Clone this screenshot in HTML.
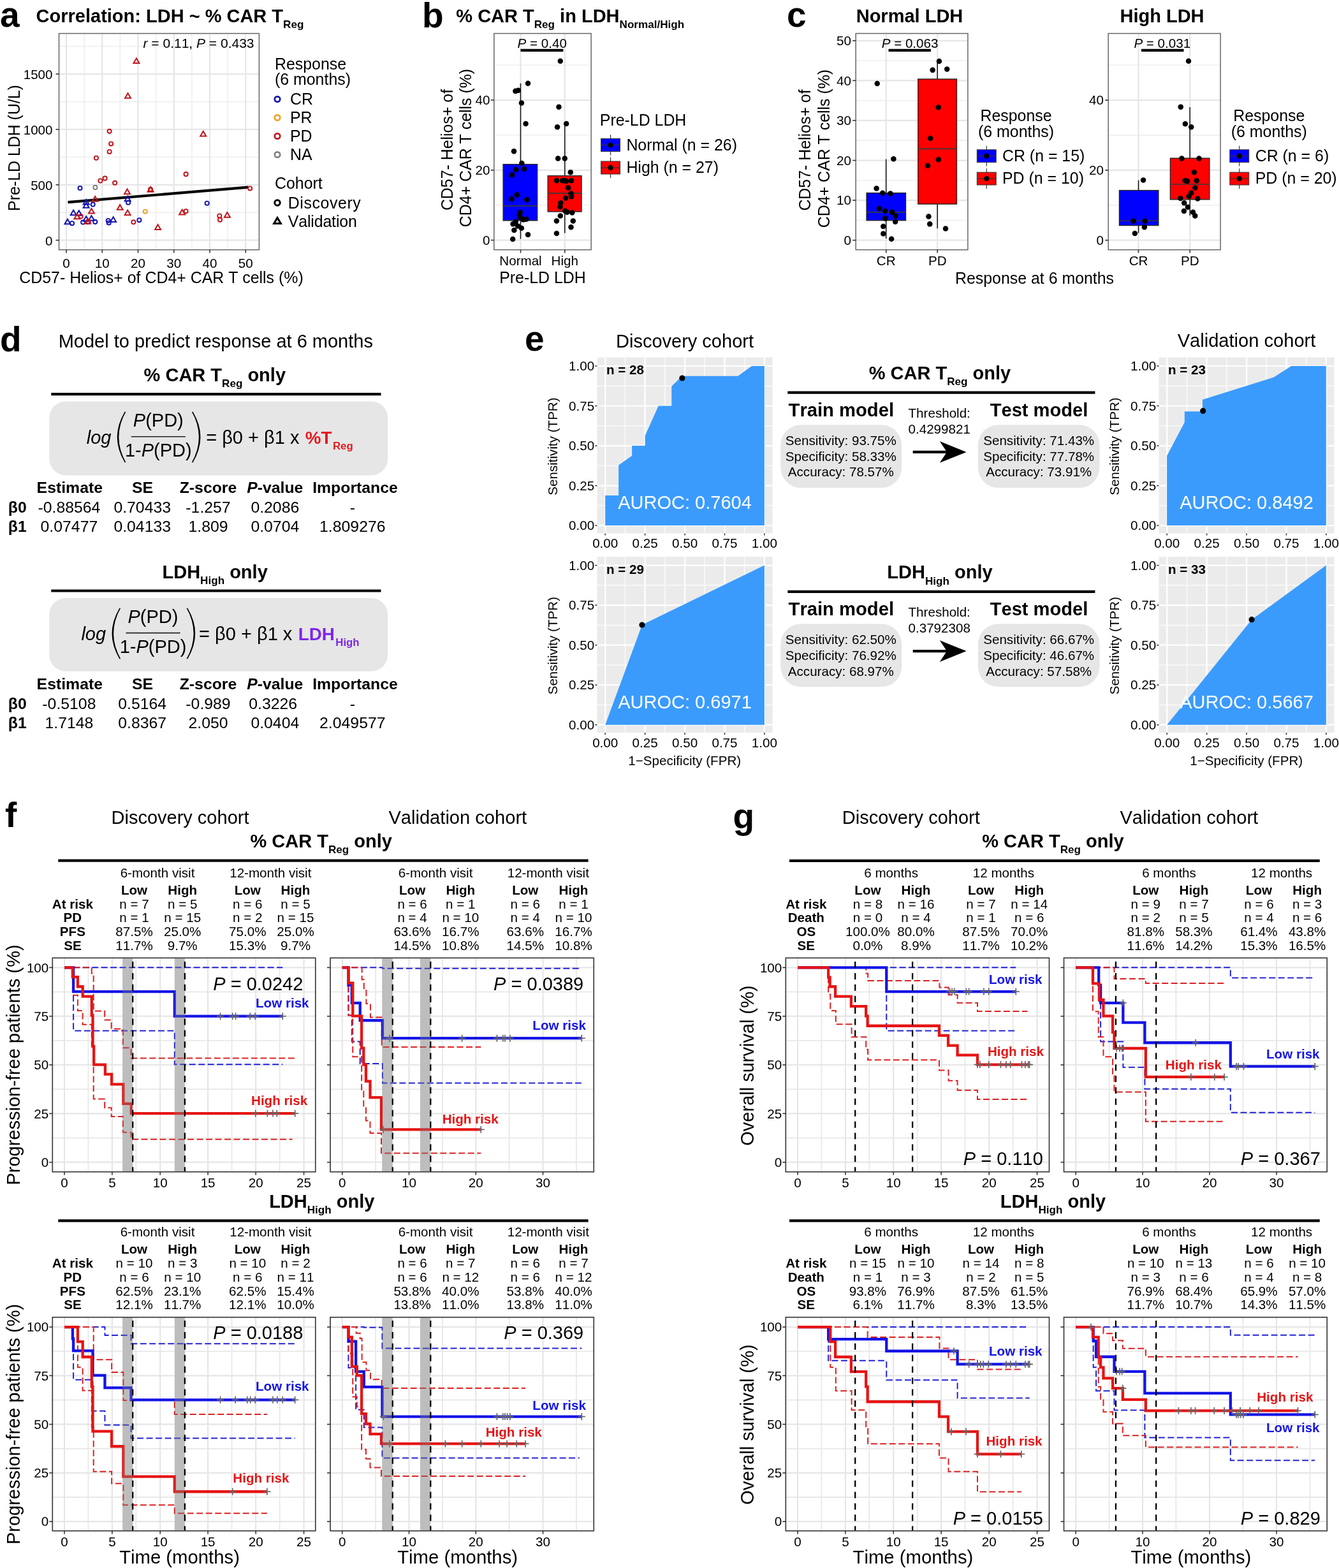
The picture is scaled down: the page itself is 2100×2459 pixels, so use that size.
<!DOCTYPE html>
<html lang="en"><head><meta charset="utf-8"><title>Figure</title>
<style>
html,body{margin:0;padding:0;background:#fff;}
body{width:2100px;height:2459px;overflow:hidden;}
svg{display:block;font-family:'Liberation Sans', sans-serif;font-kerning:none;}
text{font-kerning:none;}
</style></head><body>
<svg width="2100" height="2459" viewBox="0 0 2100 2459">
<rect width="2100" height="2459" fill="#fff"/>
<text x="0" y="42.3" font-size="55" font-weight="bold">a</text>
<text x="56.6" y="34.8" font-size="29.0" font-weight="bold">Correlation: LDH ~ % CAR T<tspan dy="9.3" font-size="17.1">Reg</tspan></text>
<rect x="92.5" y="52.5" width="313.9" height="339.2" fill="#fff"/>
<line x1="132.12" y1="52.5" x2="132.12" y2="391.7" stroke="#ececec" stroke-width="1.4"/>
<line x1="188.38" y1="52.5" x2="188.38" y2="391.7" stroke="#ececec" stroke-width="1.4"/>
<line x1="244.62" y1="52.5" x2="244.62" y2="391.7" stroke="#ececec" stroke-width="1.4"/>
<line x1="300.88" y1="52.5" x2="300.88" y2="391.7" stroke="#ececec" stroke-width="1.4"/>
<line x1="357.12" y1="52.5" x2="357.12" y2="391.7" stroke="#ececec" stroke-width="1.4"/>
<line x1="92.5" y1="333.27" x2="406.4" y2="333.27" stroke="#ececec" stroke-width="1.3"/>
<line x1="92.5" y1="246.4" x2="406.4" y2="246.4" stroke="#ececec" stroke-width="1.3"/>
<line x1="92.5" y1="159.54" x2="406.4" y2="159.54" stroke="#ececec" stroke-width="1.3"/>
<line x1="92.5" y1="72.67" x2="406.4" y2="72.67" stroke="#ececec" stroke-width="1.3"/>
<line x1="104" y1="52.5" x2="104" y2="391.7" stroke="#e4e4e4" stroke-width="2"/>
<line x1="160.25" y1="52.5" x2="160.25" y2="391.7" stroke="#e4e4e4" stroke-width="2"/>
<line x1="216.5" y1="52.5" x2="216.5" y2="391.7" stroke="#e4e4e4" stroke-width="2"/>
<line x1="272.75" y1="52.5" x2="272.75" y2="391.7" stroke="#e4e4e4" stroke-width="2"/>
<line x1="329" y1="52.5" x2="329" y2="391.7" stroke="#e4e4e4" stroke-width="2"/>
<line x1="385.25" y1="52.5" x2="385.25" y2="391.7" stroke="#e4e4e4" stroke-width="2"/>
<line x1="92.5" y1="376.7" x2="406.4" y2="376.7" stroke="#e6e6e6" stroke-width="2.2"/>
<line x1="92.5" y1="289.83" x2="406.4" y2="289.83" stroke="#e6e6e6" stroke-width="2.2"/>
<line x1="92.5" y1="202.97" x2="406.4" y2="202.97" stroke="#e6e6e6" stroke-width="2.2"/>
<line x1="92.5" y1="116.11" x2="406.4" y2="116.11" stroke="#e6e6e6" stroke-width="2.2"/>
<line x1="106.52" y1="317.15" x2="389.44" y2="293.7" stroke="#000" stroke-width="4.2"/>
<circle cx="125.55" cy="295.05" r="3.1" fill="none" stroke="#1212b0" stroke-width="1.9"/>
<circle cx="145.73" cy="320.61" r="3.1" fill="none" stroke="#1212b0" stroke-width="1.9"/>
<circle cx="201.09" cy="317.73" r="3.1" fill="none" stroke="#1212b0" stroke-width="1.9"/>
<circle cx="324.67" cy="318.69" r="3.1" fill="none" stroke="#1212b0" stroke-width="1.9"/>
<circle cx="113.06" cy="350.21" r="3.1" fill="none" stroke="#1212b0" stroke-width="1.9"/>
<circle cx="130.16" cy="348.48" r="3.1" fill="none" stroke="#1212b0" stroke-width="1.9"/>
<circle cx="149.19" cy="347.9" r="3.1" fill="none" stroke="#1212b0" stroke-width="1.9"/>
<circle cx="169.76" cy="345.98" r="3.1" fill="none" stroke="#1212b0" stroke-width="1.9"/>
<circle cx="170.72" cy="349.44" r="3.1" fill="none" stroke="#1212b0" stroke-width="1.9"/>
<circle cx="218.38" cy="345.21" r="3.1" fill="none" stroke="#1212b0" stroke-width="1.9"/>
<circle cx="137.66" cy="348.09" r="3.1" fill="none" stroke="#1212b0" stroke-width="1.9"/>
<path d="M135.16 312.87 L130.7 320.48 L139.63 320.48 Z" fill="none" stroke="#1212b0" stroke-width="2"/>
<path d="M135.16 318.06 L130.7 325.67 L139.63 325.67 Z" fill="none" stroke="#1212b0" stroke-width="2"/>
<path d="M200.12 307.68 L195.66 315.29 L204.59 315.29 Z" fill="none" stroke="#1212b0" stroke-width="2"/>
<path d="M115.17 329.59 L110.71 337.2 L119.64 337.2 Z" fill="none" stroke="#1212b0" stroke-width="2"/>
<path d="M123.82 330.16 L119.36 337.78 L128.29 337.78 Z" fill="none" stroke="#1212b0" stroke-width="2"/>
<path d="M135.16 339.2 L130.7 346.81 L139.63 346.81 Z" fill="none" stroke="#1212b0" stroke-width="2"/>
<path d="M143.43 338.24 L138.96 345.85 L147.89 345.85 Z" fill="none" stroke="#1212b0" stroke-width="2"/>
<path d="M105.95 343.62 L101.48 351.23 L110.41 351.23 Z" fill="none" stroke="#1212b0" stroke-width="2"/>
<path d="M177.64 340.35 L173.17 347.96 L182.1 347.96 Z" fill="none" stroke="#1212b0" stroke-width="2"/>
<circle cx="171.68" cy="205.87" r="3.1" fill="none" stroke="#c0141c" stroke-width="1.9"/>
<circle cx="174.18" cy="225.47" r="3.1" fill="none" stroke="#c0141c" stroke-width="1.9"/>
<circle cx="171.68" cy="237.96" r="3.1" fill="none" stroke="#c0141c" stroke-width="1.9"/>
<circle cx="150.92" cy="247.77" r="3.1" fill="none" stroke="#c0141c" stroke-width="1.9"/>
<circle cx="157.46" cy="283.52" r="3.1" fill="none" stroke="#c0141c" stroke-width="1.9"/>
<circle cx="164.57" cy="279.67" r="3.1" fill="none" stroke="#c0141c" stroke-width="1.9"/>
<circle cx="180.14" cy="286.78" r="3.1" fill="none" stroke="#c0141c" stroke-width="1.9"/>
<circle cx="291.61" cy="273.14" r="3.1" fill="none" stroke="#c0141c" stroke-width="1.9"/>
<circle cx="392.13" cy="295.43" r="3.1" fill="none" stroke="#c0141c" stroke-width="1.9"/>
<circle cx="291.61" cy="331.18" r="3.1" fill="none" stroke="#c0141c" stroke-width="1.9"/>
<circle cx="126.7" cy="339.25" r="3.1" fill="none" stroke="#c0141c" stroke-width="1.9"/>
<circle cx="209.35" cy="348.29" r="3.1" fill="none" stroke="#c0141c" stroke-width="1.9"/>
<circle cx="344.27" cy="338.49" r="3.1" fill="none" stroke="#c0141c" stroke-width="1.9"/>
<circle cx="345.04" cy="344.64" r="3.1" fill="none" stroke="#c0141c" stroke-width="1.9"/>
<circle cx="236.07" cy="296.97" r="3.1" fill="none" stroke="#c0141c" stroke-width="1.9"/>
<circle cx="138.62" cy="347.9" r="3.1" fill="none" stroke="#c0141c" stroke-width="1.9"/>
<path d="M213.96 91.45 L209.5 99.07 L218.43 99.07 Z" fill="none" stroke="#c0141c" stroke-width="2"/>
<path d="M200.51 146.23 L196.04 153.84 L204.97 153.84 Z" fill="none" stroke="#c0141c" stroke-width="2"/>
<path d="M318.71 205.81 L314.25 213.43 L323.18 213.43 Z" fill="none" stroke="#c0141c" stroke-width="2"/>
<path d="M199.55 296.53 L195.08 304.14 L204.01 304.14 Z" fill="none" stroke="#c0141c" stroke-width="2"/>
<path d="M236.07 293.07 L231.6 300.68 L240.53 300.68 Z" fill="none" stroke="#c0141c" stroke-width="2"/>
<path d="M149.19 308.06 L144.73 315.68 L153.66 315.68 Z" fill="none" stroke="#c0141c" stroke-width="2"/>
<path d="M188.21 321.13 L183.74 328.75 L192.67 328.75 Z" fill="none" stroke="#c0141c" stroke-width="2"/>
<path d="M143.43 326.9 L138.96 334.51 L147.89 334.51 Z" fill="none" stroke="#c0141c" stroke-width="2"/>
<path d="M200.12 329.59 L195.66 337.2 L204.59 337.2 Z" fill="none" stroke="#c0141c" stroke-width="2"/>
<path d="M120.94 335.55 L116.47 343.16 L125.4 343.16 Z" fill="none" stroke="#c0141c" stroke-width="2"/>
<path d="M285.65 328.82 L281.19 336.43 L290.12 336.43 Z" fill="none" stroke="#c0141c" stroke-width="2"/>
<path d="M356.38 333.05 L351.92 340.66 L360.85 340.66 Z" fill="none" stroke="#c0141c" stroke-width="2"/>
<path d="M247.6 352.27 L243.13 359.88 L252.06 359.88 Z" fill="none" stroke="#c0141c" stroke-width="2"/>
<path d="M137.66 343.04 L133.19 350.66 L142.12 350.66 Z" fill="none" stroke="#c0141c" stroke-width="2"/>
<circle cx="149.38" cy="293.89" r="3.1" fill="none" stroke="#808080" stroke-width="1.9"/>
<circle cx="227.8" cy="331.76" r="3.1" fill="none" stroke="#f0a020" stroke-width="1.9"/>
<rect x="92.5" y="52.5" width="313.9" height="339.2" fill="none" stroke="#666" stroke-width="1.5"/>
<line x1="104" y1="391.7" x2="104" y2="396.7" stroke="#333" stroke-width="1.6"/>
<line x1="160.25" y1="391.7" x2="160.25" y2="396.7" stroke="#333" stroke-width="1.6"/>
<line x1="216.5" y1="391.7" x2="216.5" y2="396.7" stroke="#333" stroke-width="1.6"/>
<line x1="272.75" y1="391.7" x2="272.75" y2="396.7" stroke="#333" stroke-width="1.6"/>
<line x1="329" y1="391.7" x2="329" y2="396.7" stroke="#333" stroke-width="1.6"/>
<line x1="385.25" y1="391.7" x2="385.25" y2="396.7" stroke="#333" stroke-width="1.6"/>
<line x1="87.5" y1="376.7" x2="92.5" y2="376.7" stroke="#333" stroke-width="1.6"/>
<line x1="87.5" y1="289.83" x2="92.5" y2="289.83" stroke="#333" stroke-width="1.6"/>
<line x1="87.5" y1="202.97" x2="92.5" y2="202.97" stroke="#333" stroke-width="1.6"/>
<line x1="87.5" y1="116.11" x2="92.5" y2="116.11" stroke="#333" stroke-width="1.6"/>
<text x="398.5" y="74.8" font-size="21" text-anchor="end"><tspan font-style="italic">r</tspan> = 0.11, <tspan font-style="italic">P</tspan> = 0.433</text>
<text x="104" y="420" font-size="20.6" text-anchor="middle">0</text>
<text x="160.25" y="420" font-size="20.6" text-anchor="middle">10</text>
<text x="216.5" y="420" font-size="20.6" text-anchor="middle">20</text>
<text x="272.75" y="420" font-size="20.6" text-anchor="middle">30</text>
<text x="329" y="420" font-size="20.6" text-anchor="middle">40</text>
<text x="385.25" y="420" font-size="20.6" text-anchor="middle">50</text>
<text x="82.5" y="384.5" font-size="20.6" text-anchor="end">0</text>
<text x="82.5" y="297.63" font-size="20.6" text-anchor="end">500</text>
<text x="82.5" y="210.77" font-size="20.6" text-anchor="end">1000</text>
<text x="82.5" y="123.91" font-size="20.6" text-anchor="end">1500</text>
<text x="253" y="443.5" font-size="24.9" text-anchor="middle">CD57- Helios+ of CD4+ CAR T cells (%)</text>
<text x="31.3" y="232" font-size="24.9" text-anchor="middle" transform="rotate(-90 31.3 232)">Pre-LD LDH (U/L)</text>
<text x="431" y="108.5" font-size="24.9">Response</text>
<text x="431" y="133" font-size="24.9">(6 months)</text>
<circle cx="435" cy="155.5" r="4.2" fill="none" stroke="#1212b0" stroke-width="2.7"/>
<text x="455" y="164.4" font-size="24.9">CR</text>
<circle cx="435" cy="184.5" r="4.2" fill="none" stroke="#f0a020" stroke-width="2.7"/>
<text x="455" y="193.4" font-size="24.9">PR</text>
<circle cx="435" cy="213.5" r="4.2" fill="none" stroke="#c0141c" stroke-width="2.7"/>
<text x="455" y="222.4" font-size="24.9">PD</text>
<circle cx="435" cy="242.5" r="4.2" fill="none" stroke="#808080" stroke-width="2.7"/>
<text x="455" y="251.4" font-size="24.9">NA</text>
<text x="431" y="296" font-size="24.9">Cohort</text>
<circle cx="435" cy="318" r="4.2" fill="none" stroke="#000" stroke-width="3"/>
<text x="451.8" y="326.5" font-size="24.9" textLength="114" lengthAdjust="spacing">Discovery</text>
<path d="M435 341.4 L429.68 350.47 L440.32 350.47 Z" fill="none" stroke="#000" stroke-width="3"/>
<text x="451.8" y="355.5" font-size="24.9" textLength="108" lengthAdjust="spacing">Validation</text>
<text x="662" y="42.5" font-size="55" font-weight="bold">b</text>
<text x="715.3" y="34.8" font-size="29.0" font-weight="bold">% CAR T<tspan dy="9.3" font-size="17.1">Reg</tspan><tspan dy="-9.3" font-size="29.0"> in LDH</tspan><tspan dy="9.3" font-size="17.1">Normal/High</tspan></text>
<rect x="774.8" y="52.5" width="152.3" height="339.2" fill="#fff"/>
<line x1="774.8" y1="321.7" x2="927.1" y2="321.7" stroke="#ececec" stroke-width="1.3"/>
<line x1="774.8" y1="211.9" x2="927.1" y2="211.9" stroke="#ececec" stroke-width="1.3"/>
<line x1="774.8" y1="102.1" x2="927.1" y2="102.1" stroke="#ececec" stroke-width="1.3"/>
<line x1="816.5" y1="52.5" x2="816.5" y2="391.7" stroke="#e4e4e4" stroke-width="2"/>
<line x1="885.8" y1="52.5" x2="885.8" y2="391.7" stroke="#e4e4e4" stroke-width="2"/>
<line x1="774.8" y1="376.6" x2="927.1" y2="376.6" stroke="#e6e6e6" stroke-width="2.2"/>
<line x1="774.8" y1="266.8" x2="927.1" y2="266.8" stroke="#e6e6e6" stroke-width="2.2"/>
<line x1="774.8" y1="157" x2="927.1" y2="157" stroke="#e6e6e6" stroke-width="2.2"/>
<line x1="816.47" y1="130.77" x2="816.47" y2="374.66" stroke="#1a1a1a" stroke-width="1.6"/>
<rect x="789.14" y="257.67" width="53.55" height="88.2" fill="#0000ff" stroke="#262626" stroke-width="1.4"/>
<line x1="789.14" y1="322.95" x2="842.69" y2="322.95" stroke="#383838" stroke-width="1.7"/>
<line x1="885.78" y1="194.03" x2="885.78" y2="365.49" stroke="#1a1a1a" stroke-width="1.6"/>
<rect x="859.19" y="275.64" width="52.81" height="56.3" fill="#ff0000" stroke="#262626" stroke-width="1.4"/>
<line x1="859.19" y1="303.14" x2="912" y2="303.14" stroke="#383838" stroke-width="1.7"/>
<circle cx="828.02" cy="130.77" r="4.25" fill="#000"/>
<circle cx="808.4" cy="142.87" r="4.25" fill="#000"/>
<circle cx="812.8" cy="141.77" r="4.25" fill="#000"/>
<circle cx="817.93" cy="161.58" r="4.25" fill="#000"/>
<circle cx="824.54" cy="194.03" r="4.25" fill="#000"/>
<circle cx="806.01" cy="237.13" r="4.25" fill="#000"/>
<circle cx="818.3" cy="256.01" r="4.25" fill="#000"/>
<circle cx="809.32" cy="265.92" r="4.25" fill="#000"/>
<circle cx="822.15" cy="265" r="4.25" fill="#000"/>
<circle cx="802.9" cy="274.35" r="4.25" fill="#000"/>
<circle cx="810.78" cy="305.53" r="4.25" fill="#000"/>
<circle cx="802.35" cy="311.94" r="4.25" fill="#000"/>
<circle cx="826.37" cy="313.23" r="4.25" fill="#000"/>
<circle cx="815.73" cy="333.03" r="4.25" fill="#000"/>
<circle cx="814.82" cy="337.43" r="4.25" fill="#000"/>
<circle cx="820.68" cy="344.4" r="4.25" fill="#000"/>
<circle cx="825.27" cy="343.85" r="4.25" fill="#000"/>
<circle cx="808.77" cy="347.7" r="4.25" fill="#000"/>
<circle cx="804.55" cy="351.19" r="4.25" fill="#000"/>
<circle cx="812.07" cy="354.49" r="4.25" fill="#000"/>
<circle cx="817.93" cy="357.79" r="4.25" fill="#000"/>
<circle cx="806.38" cy="360.9" r="4.25" fill="#000"/>
<circle cx="828.02" cy="368.06" r="4.25" fill="#000"/>
<circle cx="804.18" cy="375.02" r="4.25" fill="#000"/>
<circle cx="815.73" cy="340.73" r="4.25" fill="#000"/>
<circle cx="878.81" cy="95.75" r="4.25" fill="#000"/>
<circle cx="876.43" cy="167.63" r="4.25" fill="#000"/>
<circle cx="888.17" cy="194.03" r="4.25" fill="#000"/>
<circle cx="874.05" cy="199.35" r="4.25" fill="#000"/>
<circle cx="875.15" cy="248.5" r="4.25" fill="#000"/>
<circle cx="885.78" cy="248.5" r="4.25" fill="#000"/>
<circle cx="894.77" cy="270.13" r="4.25" fill="#000"/>
<circle cx="872.95" cy="283.34" r="4.25" fill="#000"/>
<circle cx="882.11" cy="283.34" r="4.25" fill="#000"/>
<circle cx="885.42" cy="283.34" r="4.25" fill="#000"/>
<circle cx="888.17" cy="283.89" r="4.25" fill="#000"/>
<circle cx="896.05" cy="283.34" r="4.25" fill="#000"/>
<circle cx="891.1" cy="294.52" r="4.25" fill="#000"/>
<circle cx="895.5" cy="303.51" r="4.25" fill="#000"/>
<circle cx="896.05" cy="308.28" r="4.25" fill="#000"/>
<circle cx="887.07" cy="310.84" r="4.25" fill="#000"/>
<circle cx="879.36" cy="318.18" r="4.25" fill="#000"/>
<circle cx="878.45" cy="324.23" r="4.25" fill="#000"/>
<circle cx="886.15" cy="330.65" r="4.25" fill="#000"/>
<circle cx="889.45" cy="332.85" r="4.25" fill="#000"/>
<circle cx="897.33" cy="333.4" r="4.25" fill="#000"/>
<circle cx="878.81" cy="338.53" r="4.25" fill="#000"/>
<circle cx="872.95" cy="346.6" r="4.25" fill="#000"/>
<circle cx="898.8" cy="346.6" r="4.25" fill="#000"/>
<circle cx="895.5" cy="356.14" r="4.25" fill="#000"/>
<circle cx="872.95" cy="366.04" r="4.25" fill="#000"/>
<line x1="816.47" y1="78.9" x2="883.4" y2="78.9" stroke="#000" stroke-width="4.4"/>
<text x="850.21" y="74.5" font-size="20.6" text-anchor="middle"><tspan font-style="italic">P</tspan> = 0.40</text>
<rect x="774.8" y="52.5" width="152.3" height="339.2" fill="none" stroke="#666" stroke-width="1.5"/>
<line x1="816.5" y1="391.7" x2="816.5" y2="396.7" stroke="#333" stroke-width="1.6"/>
<line x1="885.8" y1="391.7" x2="885.8" y2="396.7" stroke="#333" stroke-width="1.6"/>
<line x1="769.8" y1="376.6" x2="774.8" y2="376.6" stroke="#333" stroke-width="1.6"/>
<line x1="769.8" y1="266.8" x2="774.8" y2="266.8" stroke="#333" stroke-width="1.6"/>
<line x1="769.8" y1="157" x2="774.8" y2="157" stroke="#333" stroke-width="1.6"/>
<text x="768.5" y="383.9" font-size="20.6" text-anchor="end">0</text>
<text x="768.5" y="274.1" font-size="20.6" text-anchor="end">20</text>
<text x="768.5" y="164.3" font-size="20.6" text-anchor="end">40</text>
<text x="816.5" y="416" font-size="20.6" text-anchor="middle">Normal</text>
<text x="885.8" y="416" font-size="20.6" text-anchor="middle">High</text>
<text x="851" y="443.5" font-size="24.9" text-anchor="middle">Pre-LD LDH</text>
<text x="709.5" y="235" font-size="24.9" text-anchor="middle" transform="rotate(-90 709.5 235)">CD57- Helios+ of</text>
<text x="738.5" y="232" font-size="24.9" text-anchor="middle" transform="rotate(-90 738.5 232)">CD4+ CAR T cells (%)</text>
<text x="940.8" y="197" font-size="24.9">Pre-LD LDH</text>
<line x1="957.55" y1="211.3" x2="957.55" y2="243.5" stroke="#333" stroke-width="1.2"/>
<rect x="942.6" y="217.3" width="29.9" height="20.2" fill="#0000ff" stroke="#333" stroke-width="1"/>
<line x1="942.6" y1="227.4" x2="972.5" y2="227.4" stroke="#333" stroke-width="1.2"/>
<circle cx="957.55" cy="227.4" r="4.2" fill="#000"/>
<line x1="957.55" y1="247" x2="957.55" y2="279" stroke="#333" stroke-width="1.2"/>
<rect x="942.6" y="253" width="29.9" height="20" fill="#ff0000" stroke="#333" stroke-width="1"/>
<line x1="942.6" y1="263" x2="972.5" y2="263" stroke="#333" stroke-width="1.2"/>
<circle cx="957.55" cy="263" r="4.2" fill="#000"/>
<text x="982.4" y="235.5" font-size="24.9">Normal (n = 26)</text>
<text x="982.4" y="271" font-size="24.9">High (n = 27)</text>
<text x="1234" y="42" font-size="55" font-weight="bold">c</text>
<text x="1426.5" y="34.5" font-size="29" font-weight="bold" text-anchor="middle">Normal LDH</text>
<text x="1822.5" y="34.5" font-size="29" font-weight="bold" text-anchor="middle">High LDH</text>
<rect x="1342.2" y="52.5" width="175.7" height="339.2" fill="#fff"/>
<line x1="1342.2" y1="345.41" x2="1517.9" y2="345.41" stroke="#ececec" stroke-width="1.3"/>
<line x1="1342.2" y1="282.83" x2="1517.9" y2="282.83" stroke="#ececec" stroke-width="1.3"/>
<line x1="1342.2" y1="220.25" x2="1517.9" y2="220.25" stroke="#ececec" stroke-width="1.3"/>
<line x1="1342.2" y1="157.67" x2="1517.9" y2="157.67" stroke="#ececec" stroke-width="1.3"/>
<line x1="1342.2" y1="95.09" x2="1517.9" y2="95.09" stroke="#ececec" stroke-width="1.3"/>
<line x1="1389.7" y1="52.5" x2="1389.7" y2="391.7" stroke="#e4e4e4" stroke-width="2"/>
<line x1="1470.2" y1="52.5" x2="1470.2" y2="391.7" stroke="#e4e4e4" stroke-width="2"/>
<line x1="1342.2" y1="376.7" x2="1517.9" y2="376.7" stroke="#e6e6e6" stroke-width="2.2"/>
<line x1="1342.2" y1="314.12" x2="1517.9" y2="314.12" stroke="#e6e6e6" stroke-width="2.2"/>
<line x1="1342.2" y1="251.54" x2="1517.9" y2="251.54" stroke="#e6e6e6" stroke-width="2.2"/>
<line x1="1342.2" y1="188.96" x2="1517.9" y2="188.96" stroke="#e6e6e6" stroke-width="2.2"/>
<line x1="1342.2" y1="126.38" x2="1517.9" y2="126.38" stroke="#e6e6e6" stroke-width="2.2"/>
<line x1="1342.2" y1="63.8" x2="1517.9" y2="63.8" stroke="#e6e6e6" stroke-width="2.2"/>
<line x1="1389.67" y1="249.6" x2="1389.67" y2="374.11" stroke="#1a1a1a" stroke-width="1.6"/>
<rect x="1359.05" y="302.59" width="61.43" height="43.09" fill="#0000ff" stroke="#262626" stroke-width="1.4"/>
<line x1="1359.05" y1="332.85" x2="1420.48" y2="332.85" stroke="#383838" stroke-width="1.7"/>
<line x1="1470.17" y1="95.01" x2="1470.17" y2="358.15" stroke="#1a1a1a" stroke-width="1.6"/>
<rect x="1439.73" y="123.99" width="60.7" height="196.03" fill="#ff0000" stroke="#262626" stroke-width="1.4"/>
<line x1="1439.73" y1="233.46" x2="1500.43" y2="233.46" stroke="#383838" stroke-width="1.7"/>
<circle cx="1375.73" cy="130.95" r="4.25" fill="#000"/>
<circle cx="1401.41" cy="249.23" r="4.25" fill="#000"/>
<circle cx="1374.63" cy="295.44" r="4.25" fill="#000"/>
<circle cx="1384.17" cy="302.78" r="4.25" fill="#000"/>
<circle cx="1396.45" cy="303.51" r="4.25" fill="#000"/>
<circle cx="1379.03" cy="326.98" r="4.25" fill="#000"/>
<circle cx="1388.2" cy="330.65" r="4.25" fill="#000"/>
<circle cx="1399.21" cy="332.85" r="4.25" fill="#000"/>
<circle cx="1404.52" cy="338.53" r="4.25" fill="#000"/>
<circle cx="1388.39" cy="342.57" r="4.25" fill="#000"/>
<circle cx="1404.16" cy="347.7" r="4.25" fill="#000"/>
<circle cx="1385.27" cy="355.04" r="4.25" fill="#000"/>
<circle cx="1385.27" cy="366.59" r="4.25" fill="#000"/>
<circle cx="1398.11" cy="374.84" r="4.25" fill="#000"/>
<circle cx="1472.92" cy="95.93" r="4.25" fill="#000"/>
<circle cx="1462.65" cy="109.87" r="4.25" fill="#000"/>
<circle cx="1485.21" cy="108.58" r="4.25" fill="#000"/>
<circle cx="1471.64" cy="168.18" r="4.25" fill="#000"/>
<circle cx="1459.17" cy="216.96" r="4.25" fill="#000"/>
<circle cx="1471.82" cy="250.33" r="4.25" fill="#000"/>
<circle cx="1454.95" cy="259.68" r="4.25" fill="#000"/>
<circle cx="1456.42" cy="339.45" r="4.25" fill="#000"/>
<circle cx="1458.25" cy="351.37" r="4.25" fill="#000"/>
<circle cx="1483.01" cy="358.52" r="4.25" fill="#000"/>
<line x1="1393.52" y1="78.9" x2="1459.9" y2="78.9" stroke="#000" stroke-width="4.4"/>
<text x="1427.08" y="74.5" font-size="20.6" text-anchor="middle"><tspan font-style="italic">P</tspan> = 0.063</text>
<rect x="1342.2" y="52.5" width="175.7" height="339.2" fill="none" stroke="#666" stroke-width="1.5"/>
<line x1="1389.7" y1="391.7" x2="1389.7" y2="396.7" stroke="#333" stroke-width="1.6"/>
<line x1="1470.2" y1="391.7" x2="1470.2" y2="396.7" stroke="#333" stroke-width="1.6"/>
<line x1="1337.2" y1="376.7" x2="1342.2" y2="376.7" stroke="#333" stroke-width="1.6"/>
<line x1="1337.2" y1="314.12" x2="1342.2" y2="314.12" stroke="#333" stroke-width="1.6"/>
<line x1="1337.2" y1="251.54" x2="1342.2" y2="251.54" stroke="#333" stroke-width="1.6"/>
<line x1="1337.2" y1="188.96" x2="1342.2" y2="188.96" stroke="#333" stroke-width="1.6"/>
<line x1="1337.2" y1="126.38" x2="1342.2" y2="126.38" stroke="#333" stroke-width="1.6"/>
<line x1="1337.2" y1="63.8" x2="1342.2" y2="63.8" stroke="#333" stroke-width="1.6"/>
<text x="1335" y="384" font-size="20.6" text-anchor="end">0</text>
<text x="1335" y="321.42" font-size="20.6" text-anchor="end">10</text>
<text x="1335" y="258.84" font-size="20.6" text-anchor="end">20</text>
<text x="1335" y="196.26" font-size="20.6" text-anchor="end">30</text>
<text x="1335" y="133.68" font-size="20.6" text-anchor="end">40</text>
<text x="1335" y="71.1" font-size="20.6" text-anchor="end">50</text>
<text x="1389.7" y="416" font-size="20.6" text-anchor="middle">CR</text>
<text x="1470.2" y="416" font-size="20.6" text-anchor="middle">PD</text>
<text x="1622.5" y="444.5" font-size="24.9" text-anchor="middle">Response at 6 months</text>
<text x="1271" y="235.5" font-size="24.9" text-anchor="middle" transform="rotate(-90 1271 235.5)">CD57- Helios+ of</text>
<text x="1300.5" y="233" font-size="24.9" text-anchor="middle" transform="rotate(-90 1300.5 233)">CD4+ CAR T cells (%)</text>
<text x="1593.5" y="190" font-size="24.9" text-anchor="middle">Response</text>
<text x="1593.5" y="215.2" font-size="24.9" text-anchor="middle">(6 months)</text>
<line x1="1547.25" y1="228.8" x2="1547.25" y2="260.6" stroke="#333" stroke-width="1.2"/>
<rect x="1532.3" y="234.8" width="29.9" height="19.8" fill="#0000ff" stroke="#333" stroke-width="1"/>
<line x1="1532.3" y1="244.7" x2="1562.2" y2="244.7" stroke="#333" stroke-width="1.2"/>
<circle cx="1547.25" cy="244.7" r="4.2" fill="#000"/>
<line x1="1547.25" y1="264.2" x2="1547.25" y2="296" stroke="#333" stroke-width="1.2"/>
<rect x="1532.3" y="270.2" width="29.9" height="19.8" fill="#ff0000" stroke="#333" stroke-width="1"/>
<line x1="1532.3" y1="280.1" x2="1562.2" y2="280.1" stroke="#333" stroke-width="1.2"/>
<circle cx="1547.25" cy="280.1" r="4.2" fill="#000"/>
<text x="1572" y="252.6" font-size="24.9">CR (n = 15)</text>
<text x="1572" y="288.4" font-size="24.9">PD (n = 10)</text>
<rect x="1738.2" y="52.5" width="175.9" height="339.2" fill="#fff"/>
<line x1="1738.2" y1="321.8" x2="1914.1" y2="321.8" stroke="#ececec" stroke-width="1.3"/>
<line x1="1738.2" y1="212" x2="1914.1" y2="212" stroke="#ececec" stroke-width="1.3"/>
<line x1="1738.2" y1="102.2" x2="1914.1" y2="102.2" stroke="#ececec" stroke-width="1.3"/>
<line x1="1785.5" y1="52.5" x2="1785.5" y2="391.7" stroke="#e4e4e4" stroke-width="2"/>
<line x1="1866.2" y1="52.5" x2="1866.2" y2="391.7" stroke="#e4e4e4" stroke-width="2"/>
<line x1="1738.2" y1="376.7" x2="1914.1" y2="376.7" stroke="#e6e6e6" stroke-width="2.2"/>
<line x1="1738.2" y1="266.9" x2="1914.1" y2="266.9" stroke="#e6e6e6" stroke-width="2.2"/>
<line x1="1738.2" y1="157.1" x2="1914.1" y2="157.1" stroke="#e6e6e6" stroke-width="2.2"/>
<line x1="1785.54" y1="282.6" x2="1785.54" y2="365.49" stroke="#1a1a1a" stroke-width="1.6"/>
<rect x="1755.46" y="298.56" width="61.43" height="55.01" fill="#0000ff" stroke="#262626" stroke-width="1.4"/>
<line x1="1755.46" y1="346.23" x2="1816.89" y2="346.23" stroke="#383838" stroke-width="1.7"/>
<line x1="1866.22" y1="168" x2="1866.22" y2="337.98" stroke="#1a1a1a" stroke-width="1.6"/>
<rect x="1835.42" y="248.13" width="61.43" height="64.73" fill="#ff0000" stroke="#262626" stroke-width="1.4"/>
<line x1="1835.42" y1="289.02" x2="1896.85" y2="289.02" stroke="#383838" stroke-width="1.7"/>
<circle cx="1793.06" cy="282.6" r="4.25" fill="#000"/>
<circle cx="1777.65" cy="346.78" r="4.25" fill="#000"/>
<circle cx="1795.62" cy="346.78" r="4.25" fill="#000"/>
<circle cx="1794.89" cy="356.32" r="4.25" fill="#000"/>
<circle cx="1779.85" cy="366.04" r="4.25" fill="#000"/>
<circle cx="1864.02" cy="95.75" r="4.25" fill="#000"/>
<circle cx="1851.74" cy="167.63" r="4.25" fill="#000"/>
<circle cx="1858.89" cy="194.22" r="4.25" fill="#000"/>
<circle cx="1868.24" cy="199.35" r="4.25" fill="#000"/>
<circle cx="1853.39" cy="248.5" r="4.25" fill="#000"/>
<circle cx="1880.53" cy="248.5" r="4.25" fill="#000"/>
<circle cx="1872.82" cy="270.13" r="4.25" fill="#000"/>
<circle cx="1858.52" cy="283.34" r="4.25" fill="#000"/>
<circle cx="1862" cy="283.89" r="4.25" fill="#000"/>
<circle cx="1876.67" cy="283.34" r="4.25" fill="#000"/>
<circle cx="1874.29" cy="294.52" r="4.25" fill="#000"/>
<circle cx="1868.24" cy="302.59" r="4.25" fill="#000"/>
<circle cx="1864.57" cy="308.09" r="4.25" fill="#000"/>
<circle cx="1851.37" cy="311.03" r="4.25" fill="#000"/>
<circle cx="1878.33" cy="311.39" r="4.25" fill="#000"/>
<circle cx="1857.24" cy="318.18" r="4.25" fill="#000"/>
<circle cx="1862.92" cy="324.78" r="4.25" fill="#000"/>
<circle cx="1856.87" cy="331.01" r="4.25" fill="#000"/>
<circle cx="1870.99" cy="332.85" r="4.25" fill="#000"/>
<circle cx="1874.29" cy="338.53" r="4.25" fill="#000"/>
<line x1="1789.94" y1="78.9" x2="1856.5" y2="78.9" stroke="#000" stroke-width="4.4"/>
<text x="1822.76" y="74.5" font-size="20.6" text-anchor="middle"><tspan font-style="italic">P</tspan> = 0.031</text>
<rect x="1738.2" y="52.5" width="175.9" height="339.2" fill="none" stroke="#666" stroke-width="1.5"/>
<line x1="1785.5" y1="391.7" x2="1785.5" y2="396.7" stroke="#333" stroke-width="1.6"/>
<line x1="1866.2" y1="391.7" x2="1866.2" y2="396.7" stroke="#333" stroke-width="1.6"/>
<line x1="1733.2" y1="376.7" x2="1738.2" y2="376.7" stroke="#333" stroke-width="1.6"/>
<line x1="1733.2" y1="266.9" x2="1738.2" y2="266.9" stroke="#333" stroke-width="1.6"/>
<line x1="1733.2" y1="157.1" x2="1738.2" y2="157.1" stroke="#333" stroke-width="1.6"/>
<text x="1731" y="384" font-size="20.6" text-anchor="end">0</text>
<text x="1731" y="274.2" font-size="20.6" text-anchor="end">20</text>
<text x="1731" y="164.4" font-size="20.6" text-anchor="end">40</text>
<text x="1785.5" y="416" font-size="20.6" text-anchor="middle">CR</text>
<text x="1866.2" y="416" font-size="20.6" text-anchor="middle">PD</text>
<text x="1990.3" y="190" font-size="24.9" text-anchor="middle">Response</text>
<text x="1990.3" y="215.2" font-size="24.9" text-anchor="middle">(6 months)</text>
<line x1="1943.75" y1="228.8" x2="1943.75" y2="260.6" stroke="#333" stroke-width="1.2"/>
<rect x="1928.8" y="234.8" width="29.9" height="19.8" fill="#0000ff" stroke="#333" stroke-width="1"/>
<line x1="1928.8" y1="244.7" x2="1958.7" y2="244.7" stroke="#333" stroke-width="1.2"/>
<circle cx="1943.75" cy="244.7" r="4.2" fill="#000"/>
<line x1="1943.75" y1="264.2" x2="1943.75" y2="296" stroke="#333" stroke-width="1.2"/>
<rect x="1928.8" y="270.2" width="29.9" height="19.8" fill="#ff0000" stroke="#333" stroke-width="1"/>
<line x1="1928.8" y1="280.1" x2="1958.7" y2="280.1" stroke="#333" stroke-width="1.2"/>
<circle cx="1943.75" cy="280.1" r="4.2" fill="#000"/>
<text x="1968.7" y="252.6" font-size="24.9">CR (n = 6)</text>
<text x="1968.7" y="288.4" font-size="24.9">PD (n = 20)</text>
<text x="0" y="551" font-size="55" font-weight="bold">d</text>
<text x="338.3" y="545" font-size="29" text-anchor="middle">Model to predict response at 6 months</text>
<text x="225.6" y="598" font-size="29" font-weight="bold">% CAR T<tspan dy="9.3" font-size="17.1">Reg</tspan><tspan dy="-9.3" font-size="29"> only</tspan></text>
<line x1="80.3" y1="618.2" x2="597.5" y2="618.2" stroke="#000" stroke-width="4.2"/>
<rect x="77.2" y="629.4" width="531" height="116" fill="#e6e6e6" rx="26"/>
<text x="135.7" y="696" font-size="29" font-style="italic">log</text>
<text x="190.5" y="714" font-size="90" font-weight="200" font-family="'DejaVu Sans Light','DejaVu Sans',sans-serif" text-anchor="middle" stroke="#e6e6e6" stroke-width="1.7">(</text>
<text x="307" y="714" font-size="90" font-weight="200" font-family="'DejaVu Sans Light','DejaVu Sans',sans-serif" text-anchor="middle" stroke="#e6e6e6" stroke-width="1.7">)</text>
<text x="248.3" y="668.7" font-size="29.0" text-anchor="middle"><tspan font-style="italic">P</tspan>(PD)</text>
<line x1="205.8" y1="684.8" x2="290.9" y2="684.8" stroke="#222" stroke-width="1.6"/>
<text x="248.3" y="715.9" font-size="29.0" text-anchor="middle">1-<tspan font-style="italic">P</tspan>(PD)</text>
<text x="323.2" y="696" font-size="29">= β0 + β1 x</text>
<text x="478.8" y="696" font-size="27.8" font-weight="bold" fill="#e6191e">%T<tspan dy="9.3" dx="1.5" font-size="16.8">Reg</tspan></text>
<text x="109.3" y="773" font-size="24.8" font-weight="bold" text-anchor="middle">Estimate</text>
<text x="223.6" y="773" font-size="24.8" font-weight="bold" text-anchor="middle">SE</text>
<text x="326.5" y="773" font-size="24.8" font-weight="bold" text-anchor="middle">Z-score</text>
<text x="431.3" y="773" font-size="24.8" font-weight="bold" text-anchor="middle"><tspan font-style="italic">P</tspan>-value</text>
<text x="557" y="773" font-size="24.8" font-weight="bold" text-anchor="middle">Importance</text>
<text x="27.3" y="803.8" font-size="24.8" font-weight="bold" text-anchor="middle">β0</text>
<text x="108.4" y="803.8" font-size="24.8" text-anchor="middle">-0.88564</text>
<text x="223.2" y="803.8" font-size="24.8" text-anchor="middle">0.70433</text>
<text x="326.5" y="803.8" font-size="24.8" text-anchor="middle">-1.257</text>
<text x="431.3" y="803.8" font-size="24.8" text-anchor="middle">0.2086</text>
<text x="552.8" y="803.8" font-size="24.8" text-anchor="middle">-</text>
<text x="27.3" y="834" font-size="24.8" font-weight="bold" text-anchor="middle">β1</text>
<text x="108.4" y="834" font-size="24.8" text-anchor="middle">0.07477</text>
<text x="223.2" y="834" font-size="24.8" text-anchor="middle">0.04133</text>
<text x="326.5" y="834" font-size="24.8" text-anchor="middle">1.809</text>
<text x="431.3" y="834" font-size="24.8" text-anchor="middle">0.0704</text>
<text x="552.8" y="834" font-size="24.8" text-anchor="middle">1.809276</text>
<text x="254.5" y="906.5" font-size="29" font-weight="bold">LDH<tspan dy="9.3" font-size="17.1">High</tspan><tspan dy="-9.3" font-size="29"> only</tspan></text>
<line x1="80.3" y1="926.5" x2="597.5" y2="926.5" stroke="#000" stroke-width="4.2"/>
<rect x="77.2" y="938" width="531" height="114.8" fill="#e6e6e6" rx="26"/>
<text x="127.4" y="1003.8" font-size="29" font-style="italic">log</text>
<text x="182.2" y="1021.8" font-size="90" font-weight="200" font-family="'DejaVu Sans Light','DejaVu Sans',sans-serif" text-anchor="middle" stroke="#e6e6e6" stroke-width="1.7">(</text>
<text x="298.7" y="1021.8" font-size="90" font-weight="200" font-family="'DejaVu Sans Light','DejaVu Sans',sans-serif" text-anchor="middle" stroke="#e6e6e6" stroke-width="1.7">)</text>
<text x="240" y="976.5" font-size="29.0" text-anchor="middle"><tspan font-style="italic">P</tspan>(PD)</text>
<line x1="197.5" y1="992.6" x2="282.6" y2="992.6" stroke="#222" stroke-width="1.6"/>
<text x="240" y="1023.7" font-size="29.0" text-anchor="middle">1-<tspan font-style="italic">P</tspan>(PD)</text>
<text x="312.1" y="1003.8" font-size="29">= β0 + β1 x</text>
<text x="467.7" y="1003.8" font-size="27.8" font-weight="bold" fill="#7d26e6">LDH<tspan dy="9.3" dx="1.5" font-size="16.8">High</tspan></text>
<text x="109.3" y="1081.4" font-size="24.8" font-weight="bold" text-anchor="middle">Estimate</text>
<text x="223.6" y="1081.4" font-size="24.8" font-weight="bold" text-anchor="middle">SE</text>
<text x="326.5" y="1081.4" font-size="24.8" font-weight="bold" text-anchor="middle">Z-score</text>
<text x="431.3" y="1081.4" font-size="24.8" font-weight="bold" text-anchor="middle"><tspan font-style="italic">P</tspan>-value</text>
<text x="557" y="1081.4" font-size="24.8" font-weight="bold" text-anchor="middle">Importance</text>
<text x="27.3" y="1112.2" font-size="24.8" font-weight="bold" text-anchor="middle">β0</text>
<text x="108.4" y="1112.2" font-size="24.8" text-anchor="middle">-0.5108</text>
<text x="223.2" y="1112.2" font-size="24.8" text-anchor="middle">0.5164</text>
<text x="326.5" y="1112.2" font-size="24.8" text-anchor="middle">-0.989</text>
<text x="428.2" y="1112.2" font-size="24.8" text-anchor="middle">0.3226</text>
<text x="552.8" y="1112.2" font-size="24.8" text-anchor="middle">-</text>
<text x="27.3" y="1142.4" font-size="24.8" font-weight="bold" text-anchor="middle">β1</text>
<text x="108.4" y="1142.4" font-size="24.8" text-anchor="middle">1.7148</text>
<text x="223.2" y="1142.4" font-size="24.8" text-anchor="middle">0.8367</text>
<text x="326.5" y="1142.4" font-size="24.8" text-anchor="middle">2.050</text>
<text x="431.3" y="1142.4" font-size="24.8" text-anchor="middle">0.0404</text>
<text x="552.8" y="1142.4" font-size="24.8" text-anchor="middle">2.049577</text>
<text x="823" y="549.5" font-size="55" font-weight="bold">e</text>
<text x="1074" y="544.5" font-size="29" text-anchor="middle">Discovery cohort</text>
<text x="1955" y="544.3" font-size="29.1" text-anchor="middle">Validation cohort</text>
<rect x="936.5" y="560.5" width="275.1" height="275.9" fill="#ebebeb"/>
<line x1="980.41" y1="560.5" x2="980.41" y2="836.4" stroke="#fafafa" stroke-width="1.5"/>
<line x1="936.5" y1="792.84" x2="1211.6" y2="792.84" stroke="#fafafa" stroke-width="1.5"/>
<line x1="1042.84" y1="560.5" x2="1042.84" y2="836.4" stroke="#fafafa" stroke-width="1.5"/>
<line x1="936.5" y1="730.31" x2="1211.6" y2="730.31" stroke="#fafafa" stroke-width="1.5"/>
<line x1="1105.26" y1="560.5" x2="1105.26" y2="836.4" stroke="#fafafa" stroke-width="1.5"/>
<line x1="936.5" y1="667.79" x2="1211.6" y2="667.79" stroke="#fafafa" stroke-width="1.5"/>
<line x1="1167.69" y1="560.5" x2="1167.69" y2="836.4" stroke="#fafafa" stroke-width="1.5"/>
<line x1="936.5" y1="605.26" x2="1211.6" y2="605.26" stroke="#fafafa" stroke-width="1.5"/>
<line x1="949.2" y1="560.5" x2="949.2" y2="836.4" stroke="#fff" stroke-width="2.2"/>
<line x1="936.5" y1="824.1" x2="1211.6" y2="824.1" stroke="#fff" stroke-width="2.2"/>
<line x1="1011.62" y1="560.5" x2="1011.62" y2="836.4" stroke="#fff" stroke-width="2.2"/>
<line x1="936.5" y1="761.58" x2="1211.6" y2="761.58" stroke="#fff" stroke-width="2.2"/>
<line x1="1074.05" y1="560.5" x2="1074.05" y2="836.4" stroke="#fff" stroke-width="2.2"/>
<line x1="936.5" y1="699.05" x2="1211.6" y2="699.05" stroke="#fff" stroke-width="2.2"/>
<line x1="1136.48" y1="560.5" x2="1136.48" y2="836.4" stroke="#fff" stroke-width="2.2"/>
<line x1="936.5" y1="636.52" x2="1211.6" y2="636.52" stroke="#fff" stroke-width="2.2"/>
<line x1="1198.9" y1="560.5" x2="1198.9" y2="836.4" stroke="#fff" stroke-width="2.2"/>
<line x1="936.5" y1="574" x2="1211.6" y2="574" stroke="#fff" stroke-width="2.2"/>
<path d="M949.18 824.08 L949.18 776.99 L970.15 776.99 L970.15 729.51 L991.12 714.87 L991.12 699.04 L1011.7 699.04 L1011.7 683.21 L1032.67 636.52 L1053.25 636.52 L1053.25 605.65 L1069.87 589.82 L1157.32 589.82 L1179.08 574 L1198.87 574 L1198.87 824.08 Z" fill="#3a9bfd"/>
<circle cx="1069.87" cy="592.99" r="4.6" fill="#000"/>
<text x="951" y="587" font-size="20.6" font-weight="bold">n = 28</text>
<text x="1074.05" y="798.1" font-size="29" text-anchor="middle" fill="#fff">AUROC: 0.7604</text>
<line x1="949.2" y1="836.4" x2="949.2" y2="839.6" stroke="#333" stroke-width="1.5"/>
<line x1="933.3" y1="824.1" x2="936.5" y2="824.1" stroke="#333" stroke-width="1.5"/>
<text x="949.2" y="858.9" font-size="20.6" text-anchor="middle">0.00</text>
<text x="932.2" y="831.4" font-size="20.6" text-anchor="end">0.00</text>
<line x1="1011.62" y1="836.4" x2="1011.62" y2="839.6" stroke="#333" stroke-width="1.5"/>
<line x1="933.3" y1="761.58" x2="936.5" y2="761.58" stroke="#333" stroke-width="1.5"/>
<text x="1011.62" y="858.9" font-size="20.6" text-anchor="middle">0.25</text>
<text x="932.2" y="768.88" font-size="20.6" text-anchor="end">0.25</text>
<line x1="1074.05" y1="836.4" x2="1074.05" y2="839.6" stroke="#333" stroke-width="1.5"/>
<line x1="933.3" y1="699.05" x2="936.5" y2="699.05" stroke="#333" stroke-width="1.5"/>
<text x="1074.05" y="858.9" font-size="20.6" text-anchor="middle">0.50</text>
<text x="932.2" y="706.35" font-size="20.6" text-anchor="end">0.50</text>
<line x1="1136.48" y1="836.4" x2="1136.48" y2="839.6" stroke="#333" stroke-width="1.5"/>
<line x1="933.3" y1="636.52" x2="936.5" y2="636.52" stroke="#333" stroke-width="1.5"/>
<text x="1136.48" y="858.9" font-size="20.6" text-anchor="middle">0.75</text>
<text x="932.2" y="643.82" font-size="20.6" text-anchor="end">0.75</text>
<line x1="1198.9" y1="836.4" x2="1198.9" y2="839.6" stroke="#333" stroke-width="1.5"/>
<line x1="933.3" y1="574" x2="936.5" y2="574" stroke="#333" stroke-width="1.5"/>
<text x="1198.9" y="858.9" font-size="20.6" text-anchor="middle">1.00</text>
<text x="932.2" y="581.3" font-size="20.6" text-anchor="end">1.00</text>
<text x="874.5" y="700.05" font-size="20.6" text-anchor="middle" transform="rotate(-90 874.5 700.05)">Sensitivity (TPR)</text>
<rect x="936.5" y="873.2" width="275.1" height="275.9" fill="#ebebeb"/>
<line x1="980.41" y1="873.2" x2="980.41" y2="1149.1" stroke="#fafafa" stroke-width="1.5"/>
<line x1="936.5" y1="1105.44" x2="1211.6" y2="1105.44" stroke="#fafafa" stroke-width="1.5"/>
<line x1="1042.84" y1="873.2" x2="1042.84" y2="1149.1" stroke="#fafafa" stroke-width="1.5"/>
<line x1="936.5" y1="1042.91" x2="1211.6" y2="1042.91" stroke="#fafafa" stroke-width="1.5"/>
<line x1="1105.26" y1="873.2" x2="1105.26" y2="1149.1" stroke="#fafafa" stroke-width="1.5"/>
<line x1="936.5" y1="980.39" x2="1211.6" y2="980.39" stroke="#fafafa" stroke-width="1.5"/>
<line x1="1167.69" y1="873.2" x2="1167.69" y2="1149.1" stroke="#fafafa" stroke-width="1.5"/>
<line x1="936.5" y1="917.86" x2="1211.6" y2="917.86" stroke="#fafafa" stroke-width="1.5"/>
<line x1="949.2" y1="873.2" x2="949.2" y2="1149.1" stroke="#fff" stroke-width="2.2"/>
<line x1="936.5" y1="1136.7" x2="1211.6" y2="1136.7" stroke="#fff" stroke-width="2.2"/>
<line x1="1011.62" y1="873.2" x2="1011.62" y2="1149.1" stroke="#fff" stroke-width="2.2"/>
<line x1="936.5" y1="1074.17" x2="1211.6" y2="1074.17" stroke="#fff" stroke-width="2.2"/>
<line x1="1074.05" y1="873.2" x2="1074.05" y2="1149.1" stroke="#fff" stroke-width="2.2"/>
<line x1="936.5" y1="1011.65" x2="1211.6" y2="1011.65" stroke="#fff" stroke-width="2.2"/>
<line x1="1136.48" y1="873.2" x2="1136.48" y2="1149.1" stroke="#fff" stroke-width="2.2"/>
<line x1="936.5" y1="949.12" x2="1211.6" y2="949.12" stroke="#fff" stroke-width="2.2"/>
<line x1="1198.9" y1="873.2" x2="1198.9" y2="1149.1" stroke="#fff" stroke-width="2.2"/>
<line x1="936.5" y1="886.6" x2="1211.6" y2="886.6" stroke="#fff" stroke-width="2.2"/>
<path d="M949.18 1136.69 L1006.95 979.99 L1198.87 886.6 L1198.87 1136.69 Z" fill="#3a9bfd"/>
<circle cx="1006.95" cy="979.99" r="4.6" fill="#000"/>
<text x="951" y="899.7" font-size="20.6" font-weight="bold">n = 29</text>
<text x="1074.05" y="1110.7" font-size="29" text-anchor="middle" fill="#fff">AUROC: 0.6971</text>
<line x1="949.2" y1="1149.1" x2="949.2" y2="1152.3" stroke="#333" stroke-width="1.5"/>
<line x1="933.3" y1="1136.7" x2="936.5" y2="1136.7" stroke="#333" stroke-width="1.5"/>
<text x="949.2" y="1171.6" font-size="20.6" text-anchor="middle">0.00</text>
<text x="932.2" y="1144" font-size="20.6" text-anchor="end">0.00</text>
<line x1="1011.62" y1="1149.1" x2="1011.62" y2="1152.3" stroke="#333" stroke-width="1.5"/>
<line x1="933.3" y1="1074.17" x2="936.5" y2="1074.17" stroke="#333" stroke-width="1.5"/>
<text x="1011.62" y="1171.6" font-size="20.6" text-anchor="middle">0.25</text>
<text x="932.2" y="1081.47" font-size="20.6" text-anchor="end">0.25</text>
<line x1="1074.05" y1="1149.1" x2="1074.05" y2="1152.3" stroke="#333" stroke-width="1.5"/>
<line x1="933.3" y1="1011.65" x2="936.5" y2="1011.65" stroke="#333" stroke-width="1.5"/>
<text x="1074.05" y="1171.6" font-size="20.6" text-anchor="middle">0.50</text>
<text x="932.2" y="1018.95" font-size="20.6" text-anchor="end">0.50</text>
<line x1="1136.48" y1="1149.1" x2="1136.48" y2="1152.3" stroke="#333" stroke-width="1.5"/>
<line x1="933.3" y1="949.12" x2="936.5" y2="949.12" stroke="#333" stroke-width="1.5"/>
<text x="1136.48" y="1171.6" font-size="20.6" text-anchor="middle">0.75</text>
<text x="932.2" y="956.42" font-size="20.6" text-anchor="end">0.75</text>
<line x1="1198.9" y1="1149.1" x2="1198.9" y2="1152.3" stroke="#333" stroke-width="1.5"/>
<line x1="933.3" y1="886.6" x2="936.5" y2="886.6" stroke="#333" stroke-width="1.5"/>
<text x="1198.9" y="1171.6" font-size="20.6" text-anchor="middle">1.00</text>
<text x="932.2" y="893.9" font-size="20.6" text-anchor="end">1.00</text>
<text x="874.5" y="1012.65" font-size="20.6" text-anchor="middle" transform="rotate(-90 874.5 1012.65)">Sensitivity (TPR)</text>
<text x="1073.75" y="1199.6" font-size="20.6" text-anchor="middle">1−Specificity (FPR)</text>
<rect x="1817.5" y="560.5" width="275.1" height="275.9" fill="#ebebeb"/>
<line x1="1861.41" y1="560.5" x2="1861.41" y2="836.4" stroke="#fafafa" stroke-width="1.5"/>
<line x1="1817.5" y1="792.84" x2="2092.6" y2="792.84" stroke="#fafafa" stroke-width="1.5"/>
<line x1="1923.84" y1="560.5" x2="1923.84" y2="836.4" stroke="#fafafa" stroke-width="1.5"/>
<line x1="1817.5" y1="730.31" x2="2092.6" y2="730.31" stroke="#fafafa" stroke-width="1.5"/>
<line x1="1986.26" y1="560.5" x2="1986.26" y2="836.4" stroke="#fafafa" stroke-width="1.5"/>
<line x1="1817.5" y1="667.79" x2="2092.6" y2="667.79" stroke="#fafafa" stroke-width="1.5"/>
<line x1="2048.69" y1="560.5" x2="2048.69" y2="836.4" stroke="#fafafa" stroke-width="1.5"/>
<line x1="1817.5" y1="605.26" x2="2092.6" y2="605.26" stroke="#fafafa" stroke-width="1.5"/>
<line x1="1830.2" y1="560.5" x2="1830.2" y2="836.4" stroke="#fff" stroke-width="2.2"/>
<line x1="1817.5" y1="824.1" x2="2092.6" y2="824.1" stroke="#fff" stroke-width="2.2"/>
<line x1="1892.62" y1="560.5" x2="1892.62" y2="836.4" stroke="#fff" stroke-width="2.2"/>
<line x1="1817.5" y1="761.58" x2="2092.6" y2="761.58" stroke="#fff" stroke-width="2.2"/>
<line x1="1955.05" y1="560.5" x2="1955.05" y2="836.4" stroke="#fff" stroke-width="2.2"/>
<line x1="1817.5" y1="699.05" x2="2092.6" y2="699.05" stroke="#fff" stroke-width="2.2"/>
<line x1="2017.48" y1="560.5" x2="2017.48" y2="836.4" stroke="#fff" stroke-width="2.2"/>
<line x1="1817.5" y1="636.52" x2="2092.6" y2="636.52" stroke="#fff" stroke-width="2.2"/>
<line x1="2079.9" y1="560.5" x2="2079.9" y2="836.4" stroke="#fff" stroke-width="2.2"/>
<line x1="1817.5" y1="574" x2="2092.6" y2="574" stroke="#fff" stroke-width="2.2"/>
<path d="M1830.13 824.08 L1830.13 714.87 L1857.83 662.24 L1857.83 645.22 L1885.92 645.22 L1885.92 626.63 L1997.51 591.8 L2025.21 574 L2079.82 574 L2079.82 824.08 Z" fill="#3a9bfd"/>
<circle cx="1886.72" cy="644.43" r="4.6" fill="#000"/>
<text x="1832" y="587" font-size="20.6" font-weight="bold">n = 23</text>
<text x="1955.05" y="798.1" font-size="29" text-anchor="middle" fill="#fff">AUROC: 0.8492</text>
<line x1="1830.2" y1="836.4" x2="1830.2" y2="839.6" stroke="#333" stroke-width="1.5"/>
<line x1="1814.3" y1="824.1" x2="1817.5" y2="824.1" stroke="#333" stroke-width="1.5"/>
<text x="1830.2" y="858.9" font-size="20.6" text-anchor="middle">0.00</text>
<text x="1813.2" y="831.4" font-size="20.6" text-anchor="end">0.00</text>
<line x1="1892.62" y1="836.4" x2="1892.62" y2="839.6" stroke="#333" stroke-width="1.5"/>
<line x1="1814.3" y1="761.58" x2="1817.5" y2="761.58" stroke="#333" stroke-width="1.5"/>
<text x="1892.62" y="858.9" font-size="20.6" text-anchor="middle">0.25</text>
<text x="1813.2" y="768.88" font-size="20.6" text-anchor="end">0.25</text>
<line x1="1955.05" y1="836.4" x2="1955.05" y2="839.6" stroke="#333" stroke-width="1.5"/>
<line x1="1814.3" y1="699.05" x2="1817.5" y2="699.05" stroke="#333" stroke-width="1.5"/>
<text x="1955.05" y="858.9" font-size="20.6" text-anchor="middle">0.50</text>
<text x="1813.2" y="706.35" font-size="20.6" text-anchor="end">0.50</text>
<line x1="2017.48" y1="836.4" x2="2017.48" y2="839.6" stroke="#333" stroke-width="1.5"/>
<line x1="1814.3" y1="636.52" x2="1817.5" y2="636.52" stroke="#333" stroke-width="1.5"/>
<text x="2017.48" y="858.9" font-size="20.6" text-anchor="middle">0.75</text>
<text x="1813.2" y="643.82" font-size="20.6" text-anchor="end">0.75</text>
<line x1="2079.9" y1="836.4" x2="2079.9" y2="839.6" stroke="#333" stroke-width="1.5"/>
<line x1="1814.3" y1="574" x2="1817.5" y2="574" stroke="#333" stroke-width="1.5"/>
<text x="2079.9" y="858.9" font-size="20.6" text-anchor="middle">1.00</text>
<text x="1813.2" y="581.3" font-size="20.6" text-anchor="end">1.00</text>
<text x="1755.4" y="700.05" font-size="20.6" text-anchor="middle" transform="rotate(-90 1755.4 700.05)">Sensitivity (TPR)</text>
<rect x="1817.5" y="873.2" width="275.1" height="275.9" fill="#ebebeb"/>
<line x1="1861.41" y1="873.2" x2="1861.41" y2="1149.1" stroke="#fafafa" stroke-width="1.5"/>
<line x1="1817.5" y1="1105.44" x2="2092.6" y2="1105.44" stroke="#fafafa" stroke-width="1.5"/>
<line x1="1923.84" y1="873.2" x2="1923.84" y2="1149.1" stroke="#fafafa" stroke-width="1.5"/>
<line x1="1817.5" y1="1042.91" x2="2092.6" y2="1042.91" stroke="#fafafa" stroke-width="1.5"/>
<line x1="1986.26" y1="873.2" x2="1986.26" y2="1149.1" stroke="#fafafa" stroke-width="1.5"/>
<line x1="1817.5" y1="980.39" x2="2092.6" y2="980.39" stroke="#fafafa" stroke-width="1.5"/>
<line x1="2048.69" y1="873.2" x2="2048.69" y2="1149.1" stroke="#fafafa" stroke-width="1.5"/>
<line x1="1817.5" y1="917.86" x2="2092.6" y2="917.86" stroke="#fafafa" stroke-width="1.5"/>
<line x1="1830.2" y1="873.2" x2="1830.2" y2="1149.1" stroke="#fff" stroke-width="2.2"/>
<line x1="1817.5" y1="1136.7" x2="2092.6" y2="1136.7" stroke="#fff" stroke-width="2.2"/>
<line x1="1892.62" y1="873.2" x2="1892.62" y2="1149.1" stroke="#fff" stroke-width="2.2"/>
<line x1="1817.5" y1="1074.17" x2="2092.6" y2="1074.17" stroke="#fff" stroke-width="2.2"/>
<line x1="1955.05" y1="873.2" x2="1955.05" y2="1149.1" stroke="#fff" stroke-width="2.2"/>
<line x1="1817.5" y1="1011.65" x2="2092.6" y2="1011.65" stroke="#fff" stroke-width="2.2"/>
<line x1="2017.48" y1="873.2" x2="2017.48" y2="1149.1" stroke="#fff" stroke-width="2.2"/>
<line x1="1817.5" y1="949.12" x2="2092.6" y2="949.12" stroke="#fff" stroke-width="2.2"/>
<line x1="2079.9" y1="873.2" x2="2079.9" y2="1149.1" stroke="#fff" stroke-width="2.2"/>
<line x1="1817.5" y1="886.6" x2="2092.6" y2="886.6" stroke="#fff" stroke-width="2.2"/>
<path d="M1830.13 1136.69 L1963.09 971.68 L2079.82 886.6 L2079.82 1136.69 Z" fill="#3a9bfd"/>
<circle cx="1963.09" cy="971.68" r="4.6" fill="#000"/>
<text x="1832" y="899.7" font-size="20.6" font-weight="bold">n = 33</text>
<text x="1955.05" y="1110.7" font-size="29" text-anchor="middle" fill="#fff">AUROC: 0.5667</text>
<line x1="1830.2" y1="1149.1" x2="1830.2" y2="1152.3" stroke="#333" stroke-width="1.5"/>
<line x1="1814.3" y1="1136.7" x2="1817.5" y2="1136.7" stroke="#333" stroke-width="1.5"/>
<text x="1830.2" y="1171.6" font-size="20.6" text-anchor="middle">0.00</text>
<text x="1813.2" y="1144" font-size="20.6" text-anchor="end">0.00</text>
<line x1="1892.62" y1="1149.1" x2="1892.62" y2="1152.3" stroke="#333" stroke-width="1.5"/>
<line x1="1814.3" y1="1074.17" x2="1817.5" y2="1074.17" stroke="#333" stroke-width="1.5"/>
<text x="1892.62" y="1171.6" font-size="20.6" text-anchor="middle">0.25</text>
<text x="1813.2" y="1081.47" font-size="20.6" text-anchor="end">0.25</text>
<line x1="1955.05" y1="1149.1" x2="1955.05" y2="1152.3" stroke="#333" stroke-width="1.5"/>
<line x1="1814.3" y1="1011.65" x2="1817.5" y2="1011.65" stroke="#333" stroke-width="1.5"/>
<text x="1955.05" y="1171.6" font-size="20.6" text-anchor="middle">0.50</text>
<text x="1813.2" y="1018.95" font-size="20.6" text-anchor="end">0.50</text>
<line x1="2017.48" y1="1149.1" x2="2017.48" y2="1152.3" stroke="#333" stroke-width="1.5"/>
<line x1="1814.3" y1="949.12" x2="1817.5" y2="949.12" stroke="#333" stroke-width="1.5"/>
<text x="2017.48" y="1171.6" font-size="20.6" text-anchor="middle">0.75</text>
<text x="1813.2" y="956.42" font-size="20.6" text-anchor="end">0.75</text>
<line x1="2079.9" y1="1149.1" x2="2079.9" y2="1152.3" stroke="#333" stroke-width="1.5"/>
<line x1="1814.3" y1="886.6" x2="1817.5" y2="886.6" stroke="#333" stroke-width="1.5"/>
<text x="2079.9" y="1171.6" font-size="20.6" text-anchor="middle">1.00</text>
<text x="1813.2" y="893.9" font-size="20.6" text-anchor="end">1.00</text>
<text x="1755.4" y="1012.65" font-size="20.6" text-anchor="middle" transform="rotate(-90 1755.4 1012.65)">Sensitivity (TPR)</text>
<text x="1954.75" y="1199.6" font-size="20.6" text-anchor="middle">1−Specificity (FPR)</text>
<text x="1474" y="595" font-size="29" font-weight="bold" text-anchor="middle">% CAR T<tspan dy="9.3" font-size="17.1">Reg</tspan><tspan dy="-9.3" font-size="29"> only</tspan></text>
<line x1="1235.3" y1="615.6" x2="1717.4" y2="615.6" stroke="#000" stroke-width="4.2"/>
<text x="1319.3" y="652.6" font-size="29.2" font-weight="bold" text-anchor="middle">Train model</text>
<text x="1629.5" y="652.6" font-size="29.1" font-weight="bold" text-anchor="middle">Test model</text>
<rect x="1224.2" y="666.2" width="190" height="98.9" fill="#e6e6e6" rx="32"/>
<rect x="1533.8" y="666.2" width="190.7" height="98.9" fill="#e6e6e6" rx="32"/>
<text x="1318.8" y="697.8" font-size="20.6" text-anchor="middle">Sensitivity: 93.75%</text>
<text x="1629.2" y="697.8" font-size="20.6" text-anchor="middle">Sensitivity: 71.43%</text>
<text x="1318.8" y="722.6" font-size="20.6" text-anchor="middle">Specificity: 58.33%</text>
<text x="1629.2" y="722.6" font-size="20.6" text-anchor="middle">Specificity: 77.78%</text>
<text x="1318.8" y="747.4" font-size="20.6" text-anchor="middle">Accuracy: 78.57%</text>
<text x="1629.2" y="747.4" font-size="20.6" text-anchor="middle">Accuracy: 73.91%</text>
<text x="1473.2" y="654.6" font-size="20.6" text-anchor="middle">Threshold:</text>
<text x="1473.2" y="679.5" font-size="20.6" text-anchor="middle">0.4299821</text>
<line x1="1431.7" y1="708.9" x2="1490" y2="708.9" stroke="#000" stroke-width="4.3"/>
<path d="M1515.6 708.9 L1473.8 692.1 L1485 708.9 L1473.8 725.7 Z" fill="#000"/>
<text x="1474" y="907.2" font-size="29" font-weight="bold" text-anchor="middle">LDH<tspan dy="9.3" font-size="17.1">High</tspan><tspan dy="-9.3" font-size="29"> only</tspan></text>
<line x1="1235.3" y1="927.8" x2="1717.4" y2="927.8" stroke="#000" stroke-width="4.2"/>
<text x="1319.3" y="964.8" font-size="29.2" font-weight="bold" text-anchor="middle">Train model</text>
<text x="1629.5" y="964.8" font-size="29.1" font-weight="bold" text-anchor="middle">Test model</text>
<rect x="1224.2" y="978.4" width="190" height="98.9" fill="#e6e6e6" rx="32"/>
<rect x="1533.8" y="978.4" width="190.7" height="98.9" fill="#e6e6e6" rx="32"/>
<text x="1318.8" y="1010" font-size="20.6" text-anchor="middle">Sensitivity: 62.50%</text>
<text x="1629.2" y="1010" font-size="20.6" text-anchor="middle">Sensitivity: 66.67%</text>
<text x="1318.8" y="1034.8" font-size="20.6" text-anchor="middle">Specificity: 76.92%</text>
<text x="1629.2" y="1034.8" font-size="20.6" text-anchor="middle">Specificity: 46.67%</text>
<text x="1318.8" y="1059.6" font-size="20.6" text-anchor="middle">Accuracy: 68.97%</text>
<text x="1629.2" y="1059.6" font-size="20.6" text-anchor="middle">Accuracy: 57.58%</text>
<text x="1473.2" y="966.8" font-size="20.6" text-anchor="middle">Threshold:</text>
<text x="1473.2" y="991.7" font-size="20.6" text-anchor="middle">0.3792308</text>
<line x1="1431.7" y1="1021.1" x2="1490" y2="1021.1" stroke="#000" stroke-width="4.3"/>
<path d="M1515.6 1021.1 L1473.8 1004.3 L1485 1021.1 L1473.8 1037.9 Z" fill="#000"/>
<text x="8" y="1296.5" font-size="55" font-weight="bold">f</text>
<text x="282.5" y="1292" font-size="29" text-anchor="middle">Discovery cohort</text>
<text x="717.8" y="1292" font-size="29.1" text-anchor="middle">Validation cohort</text>
<text x="503.7" y="1328.6" font-size="29" font-weight="bold" text-anchor="middle">% CAR T<tspan dy="9.3" font-size="17.1">Reg</tspan><tspan dy="-9.3" font-size="29"> only</tspan></text>
<line x1="91.3" y1="1349.7" x2="922.6" y2="1349.7" stroke="#000" stroke-width="4.2"/>
<text x="504.8" y="1893.5" font-size="29" font-weight="bold" text-anchor="middle">LDH<tspan dy="9.3" font-size="17.1">High</tspan><tspan dy="-9.3" font-size="29"> only</tspan></text>
<line x1="91.3" y1="1914.4" x2="922.6" y2="1914.4" stroke="#000" stroke-width="4.2"/>
<text x="247" y="1375.8" font-size="20.6" text-anchor="middle">6-month visit</text>
<text x="424.3" y="1375.8" font-size="20.6" text-anchor="middle">12-month visit</text>
<text x="210.5" y="1402.8" font-size="20.6" font-weight="bold" text-anchor="middle">Low</text>
<text x="286.2" y="1402.8" font-size="20.6" font-weight="bold" text-anchor="middle">High</text>
<text x="388.3" y="1402.8" font-size="20.6" font-weight="bold" text-anchor="middle">Low</text>
<text x="463.5" y="1402.8" font-size="20.6" font-weight="bold" text-anchor="middle">High</text>
<text x="113.9" y="1424.8" font-size="20.6" font-weight="bold" text-anchor="middle">At risk</text>
<text x="113.9" y="1446.4" font-size="20.6" font-weight="bold" text-anchor="middle">PD</text>
<text x="113.9" y="1468" font-size="20.6" font-weight="bold" text-anchor="middle">PFS</text>
<text x="113.9" y="1489.6" font-size="20.6" font-weight="bold" text-anchor="middle">SE</text>
<text x="210.5" y="1424.8" font-size="20.6" text-anchor="middle">n = 7</text>
<text x="286.2" y="1424.8" font-size="20.6" text-anchor="middle">n = 5</text>
<text x="388.3" y="1424.8" font-size="20.6" text-anchor="middle">n = 6</text>
<text x="463.5" y="1424.8" font-size="20.6" text-anchor="middle">n = 5</text>
<text x="210.5" y="1446.4" font-size="20.6" text-anchor="middle">n = 1</text>
<text x="286.2" y="1446.4" font-size="20.6" text-anchor="middle">n = 15</text>
<text x="388.3" y="1446.4" font-size="20.6" text-anchor="middle">n = 2</text>
<text x="463.5" y="1446.4" font-size="20.6" text-anchor="middle">n = 15</text>
<text x="210.5" y="1468" font-size="20.6" text-anchor="middle">87.5%</text>
<text x="286.2" y="1468" font-size="20.6" text-anchor="middle">25.0%</text>
<text x="388.3" y="1468" font-size="20.6" text-anchor="middle">75.0%</text>
<text x="463.5" y="1468" font-size="20.6" text-anchor="middle">25.0%</text>
<text x="210.5" y="1489.6" font-size="20.6" text-anchor="middle">11.7%</text>
<text x="286.2" y="1489.6" font-size="20.6" text-anchor="middle">9.7%</text>
<text x="388.3" y="1489.6" font-size="20.6" text-anchor="middle">15.3%</text>
<text x="463.5" y="1489.6" font-size="20.6" text-anchor="middle">9.7%</text>
<text x="683" y="1375.8" font-size="20.6" text-anchor="middle">6-month visit</text>
<text x="859.8" y="1375.8" font-size="20.6" text-anchor="middle">12-month visit</text>
<text x="646.6" y="1402.8" font-size="20.6" font-weight="bold" text-anchor="middle">Low</text>
<text x="722.3" y="1402.8" font-size="20.6" font-weight="bold" text-anchor="middle">High</text>
<text x="823.8" y="1402.8" font-size="20.6" font-weight="bold" text-anchor="middle">Low</text>
<text x="899.5" y="1402.8" font-size="20.6" font-weight="bold" text-anchor="middle">High</text>
<text x="646.6" y="1424.8" font-size="20.6" text-anchor="middle">n = 6</text>
<text x="722.3" y="1424.8" font-size="20.6" text-anchor="middle">n = 1</text>
<text x="823.8" y="1424.8" font-size="20.6" text-anchor="middle">n = 6</text>
<text x="899.5" y="1424.8" font-size="20.6" text-anchor="middle">n = 1</text>
<text x="646.6" y="1446.4" font-size="20.6" text-anchor="middle">n = 4</text>
<text x="722.3" y="1446.4" font-size="20.6" text-anchor="middle">n = 10</text>
<text x="823.8" y="1446.4" font-size="20.6" text-anchor="middle">n = 4</text>
<text x="899.5" y="1446.4" font-size="20.6" text-anchor="middle">n = 10</text>
<text x="646.6" y="1468" font-size="20.6" text-anchor="middle">63.6%</text>
<text x="722.3" y="1468" font-size="20.6" text-anchor="middle">16.7%</text>
<text x="823.8" y="1468" font-size="20.6" text-anchor="middle">63.6%</text>
<text x="899.5" y="1468" font-size="20.6" text-anchor="middle">16.7%</text>
<text x="646.6" y="1489.6" font-size="20.6" text-anchor="middle">14.5%</text>
<text x="722.3" y="1489.6" font-size="20.6" text-anchor="middle">10.8%</text>
<text x="823.8" y="1489.6" font-size="20.6" text-anchor="middle">14.5%</text>
<text x="899.5" y="1489.6" font-size="20.6" text-anchor="middle">10.8%</text>
<text x="247" y="1939.3" font-size="20.6" text-anchor="middle">6-month visit</text>
<text x="424.3" y="1939.3" font-size="20.6" text-anchor="middle">12-month visit</text>
<text x="210.5" y="1966.3" font-size="20.6" font-weight="bold" text-anchor="middle">Low</text>
<text x="286.2" y="1966.3" font-size="20.6" font-weight="bold" text-anchor="middle">High</text>
<text x="388.3" y="1966.3" font-size="20.6" font-weight="bold" text-anchor="middle">Low</text>
<text x="463.5" y="1966.3" font-size="20.6" font-weight="bold" text-anchor="middle">High</text>
<text x="113.9" y="1988.3" font-size="20.6" font-weight="bold" text-anchor="middle">At risk</text>
<text x="113.9" y="2009.9" font-size="20.6" font-weight="bold" text-anchor="middle">PD</text>
<text x="113.9" y="2031.5" font-size="20.6" font-weight="bold" text-anchor="middle">PFS</text>
<text x="113.9" y="2053.1" font-size="20.6" font-weight="bold" text-anchor="middle">SE</text>
<text x="210.5" y="1988.3" font-size="20.6" text-anchor="middle">n = 10</text>
<text x="286.2" y="1988.3" font-size="20.6" text-anchor="middle">n = 3</text>
<text x="388.3" y="1988.3" font-size="20.6" text-anchor="middle">n = 10</text>
<text x="463.5" y="1988.3" font-size="20.6" text-anchor="middle">n = 2</text>
<text x="210.5" y="2009.9" font-size="20.6" text-anchor="middle">n = 6</text>
<text x="286.2" y="2009.9" font-size="20.6" text-anchor="middle">n = 10</text>
<text x="388.3" y="2009.9" font-size="20.6" text-anchor="middle">n = 6</text>
<text x="463.5" y="2009.9" font-size="20.6" text-anchor="middle">n = 11</text>
<text x="210.5" y="2031.5" font-size="20.6" text-anchor="middle">62.5%</text>
<text x="286.2" y="2031.5" font-size="20.6" text-anchor="middle">23.1%</text>
<text x="388.3" y="2031.5" font-size="20.6" text-anchor="middle">62.5%</text>
<text x="463.5" y="2031.5" font-size="20.6" text-anchor="middle">15.4%</text>
<text x="210.5" y="2053.1" font-size="20.6" text-anchor="middle">12.1%</text>
<text x="286.2" y="2053.1" font-size="20.6" text-anchor="middle">11.7%</text>
<text x="388.3" y="2053.1" font-size="20.6" text-anchor="middle">12.1%</text>
<text x="463.5" y="2053.1" font-size="20.6" text-anchor="middle">10.0%</text>
<text x="683" y="1939.3" font-size="20.6" text-anchor="middle">6-month visit</text>
<text x="859.8" y="1939.3" font-size="20.6" text-anchor="middle">12-month visit</text>
<text x="646.6" y="1966.3" font-size="20.6" font-weight="bold" text-anchor="middle">Low</text>
<text x="722.3" y="1966.3" font-size="20.6" font-weight="bold" text-anchor="middle">High</text>
<text x="823.8" y="1966.3" font-size="20.6" font-weight="bold" text-anchor="middle">Low</text>
<text x="899.5" y="1966.3" font-size="20.6" font-weight="bold" text-anchor="middle">High</text>
<text x="646.6" y="1988.3" font-size="20.6" text-anchor="middle">n = 6</text>
<text x="722.3" y="1988.3" font-size="20.6" text-anchor="middle">n = 7</text>
<text x="823.8" y="1988.3" font-size="20.6" text-anchor="middle">n = 6</text>
<text x="899.5" y="1988.3" font-size="20.6" text-anchor="middle">n = 7</text>
<text x="646.6" y="2009.9" font-size="20.6" text-anchor="middle">n = 6</text>
<text x="722.3" y="2009.9" font-size="20.6" text-anchor="middle">n = 12</text>
<text x="823.8" y="2009.9" font-size="20.6" text-anchor="middle">n = 6</text>
<text x="899.5" y="2009.9" font-size="20.6" text-anchor="middle">n = 12</text>
<text x="646.6" y="2031.5" font-size="20.6" text-anchor="middle">53.8%</text>
<text x="722.3" y="2031.5" font-size="20.6" text-anchor="middle">40.0%</text>
<text x="823.8" y="2031.5" font-size="20.6" text-anchor="middle">53.8%</text>
<text x="899.5" y="2031.5" font-size="20.6" text-anchor="middle">40.0%</text>
<text x="646.6" y="2053.1" font-size="20.6" text-anchor="middle">13.8%</text>
<text x="722.3" y="2053.1" font-size="20.6" text-anchor="middle">11.0%</text>
<text x="823.8" y="2053.1" font-size="20.6" text-anchor="middle">13.8%</text>
<text x="899.5" y="2053.1" font-size="20.6" text-anchor="middle">11.0%</text>
<text x="30.5" y="1670" font-size="29" text-anchor="middle" transform="rotate(-90 30.5 1670)">Progression-free patients (%)</text>
<text x="30.5" y="2233.5" font-size="29" text-anchor="middle" transform="rotate(-90 30.5 2233.5)">Progression-free patients (%)</text>
<rect x="82.29" y="1502.29" width="412.5" height="335.44" fill="#fff"/>
<line x1="138.44" y1="1502.29" x2="138.44" y2="1837.74" stroke="#e9e9e9" stroke-width="1.9"/>
<line x1="213.31" y1="1502.29" x2="213.31" y2="1837.74" stroke="#e9e9e9" stroke-width="1.9"/>
<line x1="288.66" y1="1502.29" x2="288.66" y2="1837.74" stroke="#e9e9e9" stroke-width="1.9"/>
<line x1="363.53" y1="1502.29" x2="363.53" y2="1837.74" stroke="#e9e9e9" stroke-width="1.9"/>
<line x1="438.64" y1="1502.29" x2="438.64" y2="1837.74" stroke="#e9e9e9" stroke-width="1.9"/>
<line x1="82.29" y1="1784.5" x2="494.79" y2="1784.5" stroke="#e9e9e9" stroke-width="1.9"/>
<line x1="82.29" y1="1708.18" x2="494.79" y2="1708.18" stroke="#e9e9e9" stroke-width="1.9"/>
<line x1="82.29" y1="1631.85" x2="494.79" y2="1631.85" stroke="#e9e9e9" stroke-width="1.9"/>
<line x1="82.29" y1="1555.53" x2="494.79" y2="1555.53" stroke="#e9e9e9" stroke-width="1.9"/>
<line x1="101.01" y1="1502.29" x2="101.01" y2="1837.74" stroke="#e4e4e4" stroke-width="2"/>
<line x1="175.88" y1="1502.29" x2="175.88" y2="1837.74" stroke="#e4e4e4" stroke-width="2"/>
<line x1="251.23" y1="1502.29" x2="251.23" y2="1837.74" stroke="#e4e4e4" stroke-width="2"/>
<line x1="326.1" y1="1502.29" x2="326.1" y2="1837.74" stroke="#e4e4e4" stroke-width="2"/>
<line x1="401.21" y1="1502.29" x2="401.21" y2="1837.74" stroke="#e4e4e4" stroke-width="2"/>
<line x1="476.56" y1="1502.29" x2="476.56" y2="1837.74" stroke="#e4e4e4" stroke-width="2"/>
<line x1="82.29" y1="1822.67" x2="494.79" y2="1822.67" stroke="#e6e6e6" stroke-width="2.2"/>
<line x1="82.29" y1="1746.34" x2="494.79" y2="1746.34" stroke="#e6e6e6" stroke-width="2.2"/>
<line x1="82.29" y1="1670.01" x2="494.79" y2="1670.01" stroke="#e6e6e6" stroke-width="2.2"/>
<line x1="82.29" y1="1593.69" x2="494.79" y2="1593.69" stroke="#e6e6e6" stroke-width="2.2"/>
<line x1="82.29" y1="1517.36" x2="494.79" y2="1517.36" stroke="#e6e6e6" stroke-width="2.2"/>
<rect x="192.16" y="1502.29" width="16.04" height="335.44" fill="#dedede"/>
<rect x="273.84" y="1502.29" width="16.04" height="335.44" fill="#dedede"/>
<path d="M115.11 1517.36 L443.26 1517.36" fill="none" stroke="#2222d6" stroke-width="2" stroke-dasharray="10 4.5"/>
<path d="M115.11 1517.36 L115.11 1616.54 L273.84 1616.54 L273.84 1669.28 L443.26 1669.28" fill="none" stroke="#2222d6" stroke-width="2" stroke-dasharray="10 4.5"/>
<path d="M101.01 1517.36 L143.79 1517.36 L143.79 1526.6 L146.71 1526.6 L146.71 1585.42 L164.21 1585.42 L164.21 1599.52 L174.66 1599.52 L174.66 1613.38 L192.89 1613.38 L192.89 1643.28 L205.53 1643.28 L205.53 1659.56 L462.7 1659.56" fill="none" stroke="#dc2020" stroke-width="2" stroke-dasharray="10 4.5"/>
<path d="M113.89 1517.36 L113.89 1560.63 L121.91 1560.63 L121.91 1584.94 L129.69 1584.94 L129.69 1606.81 L143.79 1606.81 L143.79 1640.85 L146.71 1640.85 L146.71 1723.49 L164.21 1723.49 L164.21 1737.35 L174.66 1737.35 L174.66 1750.96 L192.89 1750.96 L192.89 1775.75 L205.53 1775.75 L205.53 1786.69 L458.57 1786.69" fill="none" stroke="#dc2020" stroke-width="2" stroke-dasharray="10 4.5"/>
<path d="M101.01 1517.36 L115.11 1517.36 L115.11 1555.04 L273.84 1555.04 L273.84 1593.69 L443.26 1593.69" fill="none" stroke="#1414e6" stroke-width="4.3"/>
<path d="M101.01 1517.36 L113.89 1517.36 L113.89 1532.19 L121.91 1532.19 L121.91 1547.26 L129.69 1547.26 L129.69 1562.57 L143.79 1562.57 L143.79 1592.23 L145.49 1592.23 L145.49 1640.85 L147.19 1640.85 L147.19 1669.53 L164.94 1669.53 L164.94 1684.6 L175.15 1684.6 L175.15 1700.4 L193.38 1700.4 L193.38 1730.78 L205.77 1730.78 L205.77 1746.1 L462.7 1746.1" fill="none" stroke="#e61414" stroke-width="4.3"/>
<line x1="340.04" y1="1593.69" x2="351.04" y2="1593.69" stroke="#666" stroke-width="1.7"/>
<line x1="345.54" y1="1588.19" x2="345.54" y2="1599.19" stroke="#666" stroke-width="1.7"/>
<line x1="359.25" y1="1593.69" x2="370.25" y2="1593.69" stroke="#666" stroke-width="1.7"/>
<line x1="364.75" y1="1588.19" x2="364.75" y2="1599.19" stroke="#666" stroke-width="1.7"/>
<line x1="364.11" y1="1593.69" x2="375.11" y2="1593.69" stroke="#666" stroke-width="1.7"/>
<line x1="369.61" y1="1588.19" x2="369.61" y2="1599.19" stroke="#666" stroke-width="1.7"/>
<line x1="386.71" y1="1593.69" x2="397.71" y2="1593.69" stroke="#666" stroke-width="1.7"/>
<line x1="392.21" y1="1588.19" x2="392.21" y2="1599.19" stroke="#666" stroke-width="1.7"/>
<line x1="394.73" y1="1593.69" x2="405.73" y2="1593.69" stroke="#666" stroke-width="1.7"/>
<line x1="400.23" y1="1588.19" x2="400.23" y2="1599.19" stroke="#666" stroke-width="1.7"/>
<line x1="437.76" y1="1593.69" x2="448.76" y2="1593.69" stroke="#666" stroke-width="1.7"/>
<line x1="443.26" y1="1588.19" x2="443.26" y2="1599.19" stroke="#666" stroke-width="1.7"/>
<line x1="395.22" y1="1746.1" x2="406.22" y2="1746.1" stroke="#666" stroke-width="1.7"/>
<line x1="400.72" y1="1740.6" x2="400.72" y2="1751.6" stroke="#666" stroke-width="1.7"/>
<line x1="413.94" y1="1746.1" x2="424.94" y2="1746.1" stroke="#666" stroke-width="1.7"/>
<line x1="419.44" y1="1740.6" x2="419.44" y2="1751.6" stroke="#666" stroke-width="1.7"/>
<line x1="422.45" y1="1746.1" x2="433.45" y2="1746.1" stroke="#666" stroke-width="1.7"/>
<line x1="427.95" y1="1740.6" x2="427.95" y2="1751.6" stroke="#666" stroke-width="1.7"/>
<line x1="428.77" y1="1746.1" x2="439.77" y2="1746.1" stroke="#666" stroke-width="1.7"/>
<line x1="434.27" y1="1740.6" x2="434.27" y2="1751.6" stroke="#666" stroke-width="1.7"/>
<line x1="457.2" y1="1746.1" x2="468.2" y2="1746.1" stroke="#666" stroke-width="1.7"/>
<line x1="462.7" y1="1740.6" x2="462.7" y2="1751.6" stroke="#666" stroke-width="1.7"/>
<rect x="192.16" y="1502.29" width="16.04" height="335.44" fill="#808080" fill-opacity="0.35"/>
<rect x="273.84" y="1502.29" width="16.04" height="335.44" fill="#808080" fill-opacity="0.35"/>
<line x1="208.21" y1="1837.74" x2="208.21" y2="1502.29" stroke="#000" stroke-width="2.3" stroke-dasharray="10 7.9" stroke-dashoffset="2.5"/>
<line x1="289.88" y1="1837.74" x2="289.88" y2="1502.29" stroke="#000" stroke-width="2.3" stroke-dasharray="10 7.9" stroke-dashoffset="2.5"/>
<rect x="82.29" y="1502.29" width="412.5" height="335.44" fill="none" stroke="#3c3c3c" stroke-width="1.7"/>
<line x1="101.01" y1="1837.74" x2="101.01" y2="1842.74" stroke="#333" stroke-width="1.6"/>
<line x1="175.88" y1="1837.74" x2="175.88" y2="1842.74" stroke="#333" stroke-width="1.6"/>
<line x1="251.23" y1="1837.74" x2="251.23" y2="1842.74" stroke="#333" stroke-width="1.6"/>
<line x1="326.1" y1="1837.74" x2="326.1" y2="1842.74" stroke="#333" stroke-width="1.6"/>
<line x1="401.21" y1="1837.74" x2="401.21" y2="1842.74" stroke="#333" stroke-width="1.6"/>
<line x1="476.56" y1="1837.74" x2="476.56" y2="1842.74" stroke="#333" stroke-width="1.6"/>
<line x1="77.29" y1="1822.67" x2="82.29" y2="1822.67" stroke="#333" stroke-width="1.6"/>
<line x1="77.29" y1="1746.34" x2="82.29" y2="1746.34" stroke="#333" stroke-width="1.6"/>
<line x1="77.29" y1="1670.01" x2="82.29" y2="1670.01" stroke="#333" stroke-width="1.6"/>
<line x1="77.29" y1="1593.69" x2="82.29" y2="1593.69" stroke="#333" stroke-width="1.6"/>
<line x1="77.29" y1="1517.36" x2="82.29" y2="1517.36" stroke="#333" stroke-width="1.6"/>
<text x="101.01" y="1861.74" font-size="20.6" text-anchor="middle">0</text>
<text x="175.88" y="1861.74" font-size="20.6" text-anchor="middle">5</text>
<text x="251.23" y="1861.74" font-size="20.6" text-anchor="middle">10</text>
<text x="326.1" y="1861.74" font-size="20.6" text-anchor="middle">15</text>
<text x="401.21" y="1861.74" font-size="20.6" text-anchor="middle">20</text>
<text x="476.56" y="1861.74" font-size="20.6" text-anchor="middle">25</text>
<text x="76.29" y="1829.97" font-size="20.6" text-anchor="end">0</text>
<text x="76.29" y="1753.64" font-size="20.6" text-anchor="end">25</text>
<text x="76.29" y="1677.31" font-size="20.6" text-anchor="end">50</text>
<text x="76.29" y="1600.99" font-size="20.6" text-anchor="end">75</text>
<text x="76.29" y="1524.66" font-size="20.6" text-anchor="end">100</text>
<text x="475.34" y="1552.8" font-size="29.0" text-anchor="end"><tspan font-style="italic">P</tspan> = 0.0242</text>
<text x="484.58" y="1580.18" font-size="20.6" font-weight="bold" text-anchor="end" fill="#1414e6">Low risk</text>
<text x="482.15" y="1732.59" font-size="20.6" font-weight="bold" text-anchor="end" fill="#e61414">High risk</text>
<rect x="518.02" y="1502.29" width="413.23" height="335.44" fill="#fff"/>
<line x1="589.12" y1="1502.29" x2="589.12" y2="1837.74" stroke="#e9e9e9" stroke-width="1.9"/>
<line x1="693.89" y1="1502.29" x2="693.89" y2="1837.74" stroke="#e9e9e9" stroke-width="1.9"/>
<line x1="798.65" y1="1502.29" x2="798.65" y2="1837.74" stroke="#e9e9e9" stroke-width="1.9"/>
<line x1="903.9" y1="1502.29" x2="903.9" y2="1837.74" stroke="#e9e9e9" stroke-width="1.9"/>
<line x1="518.02" y1="1784.5" x2="931.25" y2="1784.5" stroke="#e9e9e9" stroke-width="1.9"/>
<line x1="518.02" y1="1708.18" x2="931.25" y2="1708.18" stroke="#e9e9e9" stroke-width="1.9"/>
<line x1="518.02" y1="1631.85" x2="931.25" y2="1631.85" stroke="#e9e9e9" stroke-width="1.9"/>
<line x1="518.02" y1="1555.53" x2="931.25" y2="1555.53" stroke="#e9e9e9" stroke-width="1.9"/>
<line x1="536.74" y1="1502.29" x2="536.74" y2="1837.74" stroke="#e4e4e4" stroke-width="2"/>
<line x1="641.5" y1="1502.29" x2="641.5" y2="1837.74" stroke="#e4e4e4" stroke-width="2"/>
<line x1="746.27" y1="1502.29" x2="746.27" y2="1837.74" stroke="#e4e4e4" stroke-width="2"/>
<line x1="851.52" y1="1502.29" x2="851.52" y2="1837.74" stroke="#e4e4e4" stroke-width="2"/>
<line x1="518.02" y1="1822.67" x2="931.25" y2="1822.67" stroke="#e6e6e6" stroke-width="2.2"/>
<line x1="518.02" y1="1746.34" x2="931.25" y2="1746.34" stroke="#e6e6e6" stroke-width="2.2"/>
<line x1="518.02" y1="1670.01" x2="931.25" y2="1670.01" stroke="#e6e6e6" stroke-width="2.2"/>
<line x1="518.02" y1="1593.69" x2="931.25" y2="1593.69" stroke="#e6e6e6" stroke-width="2.2"/>
<line x1="518.02" y1="1517.36" x2="931.25" y2="1517.36" stroke="#e6e6e6" stroke-width="2.2"/>
<rect x="599.21" y="1502.29" width="16.53" height="335.44" fill="#dedede"/>
<rect x="659.01" y="1502.29" width="16.29" height="335.44" fill="#dedede"/>
<path d="M536.74 1517.36 L599.94 1517.36 L599.94 1518.82 L912.29 1518.82" fill="none" stroke="#2222d6" stroke-width="2" stroke-dasharray="10 4.5"/>
<path d="M546.46 1517.36 L546.46 1592.23 L551.81 1592.23 L551.81 1633.55 L564.69 1633.55 L564.69 1668.07 L599.94 1668.07 L599.94 1698.45 L912.29 1698.45" fill="none" stroke="#2222d6" stroke-width="2" stroke-dasharray="10 4.5"/>
<path d="M536.74 1517.36 L567.61 1517.36 L567.61 1536.32 L570.77 1536.32 L570.77 1553.34 L574.41 1553.34 L574.41 1574 L580.98 1574 L580.98 1595.39 L598.72 1595.39 L598.72 1642.06 L754.29 1642.06" fill="none" stroke="#dc2020" stroke-width="2" stroke-dasharray="10 4.5"/>
<path d="M546.46 1517.36 L546.46 1592.23 L553.27 1592.23 L553.27 1657.37 L567.12 1657.37 L567.12 1711.34 L570.28 1711.34 L570.28 1735.64 L573.93 1735.64 L573.93 1757.52 L580.49 1757.52 L580.49 1776.97 L597.99 1776.97 L597.99 1808.57 L754.29 1808.57" fill="none" stroke="#dc2020" stroke-width="2" stroke-dasharray="10 4.5"/>
<path d="M536.74 1517.36 L546.46 1517.36 L546.46 1544.83 L551.81 1544.83 L551.81 1572.78 L564.69 1572.78 L564.69 1600.25 L599.94 1600.25 L599.94 1628.21 L912.29 1628.21" fill="none" stroke="#1414e6" stroke-width="4.3"/>
<path d="M536.74 1517.36 L546.46 1517.36 L546.46 1541.67 L553.27 1541.67 L553.27 1593.45 L567.12 1593.45 L567.12 1643.76 L570.28 1643.76 L570.28 1669.53 L573.93 1669.53 L573.93 1695.54 L580.49 1695.54 L580.49 1721.06 L597.99 1721.06 L597.99 1771.38 L754.29 1771.38" fill="none" stroke="#e61414" stroke-width="4.3"/>
<line x1="605.38" y1="1628.21" x2="616.38" y2="1628.21" stroke="#666" stroke-width="1.7"/>
<line x1="610.88" y1="1622.71" x2="610.88" y2="1633.71" stroke="#666" stroke-width="1.7"/>
<line x1="719.14" y1="1628.21" x2="730.14" y2="1628.21" stroke="#666" stroke-width="1.7"/>
<line x1="724.64" y1="1622.71" x2="724.64" y2="1633.71" stroke="#666" stroke-width="1.7"/>
<line x1="773.83" y1="1628.21" x2="784.83" y2="1628.21" stroke="#666" stroke-width="1.7"/>
<line x1="779.33" y1="1622.71" x2="779.33" y2="1633.71" stroke="#666" stroke-width="1.7"/>
<line x1="783.31" y1="1628.21" x2="794.31" y2="1628.21" stroke="#666" stroke-width="1.7"/>
<line x1="788.81" y1="1622.71" x2="788.81" y2="1633.71" stroke="#666" stroke-width="1.7"/>
<line x1="786.47" y1="1628.21" x2="797.47" y2="1628.21" stroke="#666" stroke-width="1.7"/>
<line x1="791.97" y1="1622.71" x2="791.97" y2="1633.71" stroke="#666" stroke-width="1.7"/>
<line x1="794.49" y1="1628.21" x2="805.49" y2="1628.21" stroke="#666" stroke-width="1.7"/>
<line x1="799.99" y1="1622.71" x2="799.99" y2="1633.71" stroke="#666" stroke-width="1.7"/>
<line x1="906.79" y1="1628.21" x2="917.79" y2="1628.21" stroke="#666" stroke-width="1.7"/>
<line x1="912.29" y1="1622.71" x2="912.29" y2="1633.71" stroke="#666" stroke-width="1.7"/>
<line x1="595.65" y1="1771.38" x2="606.65" y2="1771.38" stroke="#666" stroke-width="1.7"/>
<line x1="601.15" y1="1765.88" x2="601.15" y2="1776.88" stroke="#666" stroke-width="1.7"/>
<line x1="748.79" y1="1771.38" x2="759.79" y2="1771.38" stroke="#666" stroke-width="1.7"/>
<line x1="754.29" y1="1765.88" x2="754.29" y2="1776.88" stroke="#666" stroke-width="1.7"/>
<rect x="599.21" y="1502.29" width="16.53" height="335.44" fill="#808080" fill-opacity="0.35"/>
<rect x="659.01" y="1502.29" width="16.29" height="335.44" fill="#808080" fill-opacity="0.35"/>
<line x1="615.74" y1="1837.74" x2="615.74" y2="1502.29" stroke="#000" stroke-width="2.3" stroke-dasharray="10 7.9" stroke-dashoffset="2.5"/>
<line x1="675.29" y1="1837.74" x2="675.29" y2="1502.29" stroke="#000" stroke-width="2.3" stroke-dasharray="10 7.9" stroke-dashoffset="2.5"/>
<rect x="518.02" y="1502.29" width="413.23" height="335.44" fill="none" stroke="#3c3c3c" stroke-width="1.7"/>
<line x1="536.74" y1="1837.74" x2="536.74" y2="1842.74" stroke="#333" stroke-width="1.6"/>
<line x1="641.5" y1="1837.74" x2="641.5" y2="1842.74" stroke="#333" stroke-width="1.6"/>
<line x1="746.27" y1="1837.74" x2="746.27" y2="1842.74" stroke="#333" stroke-width="1.6"/>
<line x1="851.52" y1="1837.74" x2="851.52" y2="1842.74" stroke="#333" stroke-width="1.6"/>
<line x1="513.02" y1="1822.67" x2="518.02" y2="1822.67" stroke="#333" stroke-width="1.6"/>
<line x1="513.02" y1="1746.34" x2="518.02" y2="1746.34" stroke="#333" stroke-width="1.6"/>
<line x1="513.02" y1="1670.01" x2="518.02" y2="1670.01" stroke="#333" stroke-width="1.6"/>
<line x1="513.02" y1="1593.69" x2="518.02" y2="1593.69" stroke="#333" stroke-width="1.6"/>
<line x1="513.02" y1="1517.36" x2="518.02" y2="1517.36" stroke="#333" stroke-width="1.6"/>
<text x="536.74" y="1861.74" font-size="20.6" text-anchor="middle">0</text>
<text x="641.5" y="1861.74" font-size="20.6" text-anchor="middle">10</text>
<text x="746.27" y="1861.74" font-size="20.6" text-anchor="middle">20</text>
<text x="851.52" y="1861.74" font-size="20.6" text-anchor="middle">30</text>
<text x="915.21" y="1552.8" font-size="29.0" text-anchor="end"><tspan font-style="italic">P</tspan> = 0.0389</text>
<text x="918.85" y="1615.43" font-size="20.6" font-weight="bold" text-anchor="end" fill="#1414e6">Low risk</text>
<text x="781.76" y="1762" font-size="20.6" font-weight="bold" text-anchor="end" fill="#e61414">High risk</text>
<rect x="82.29" y="2065.78" width="412.5" height="334.96" fill="#fff"/>
<line x1="138.44" y1="2065.78" x2="138.44" y2="2400.74" stroke="#e9e9e9" stroke-width="1.9"/>
<line x1="213.31" y1="2065.78" x2="213.31" y2="2400.74" stroke="#e9e9e9" stroke-width="1.9"/>
<line x1="288.66" y1="2065.78" x2="288.66" y2="2400.74" stroke="#e9e9e9" stroke-width="1.9"/>
<line x1="363.53" y1="2065.78" x2="363.53" y2="2400.74" stroke="#e9e9e9" stroke-width="1.9"/>
<line x1="438.64" y1="2065.78" x2="438.64" y2="2400.74" stroke="#e9e9e9" stroke-width="1.9"/>
<line x1="82.29" y1="2348.02" x2="494.79" y2="2348.02" stroke="#e9e9e9" stroke-width="1.9"/>
<line x1="82.29" y1="2271.75" x2="494.79" y2="2271.75" stroke="#e9e9e9" stroke-width="1.9"/>
<line x1="82.29" y1="2195.49" x2="494.79" y2="2195.49" stroke="#e9e9e9" stroke-width="1.9"/>
<line x1="82.29" y1="2119.22" x2="494.79" y2="2119.22" stroke="#e9e9e9" stroke-width="1.9"/>
<line x1="101.01" y1="2065.78" x2="101.01" y2="2400.74" stroke="#e4e4e4" stroke-width="2"/>
<line x1="175.88" y1="2065.78" x2="175.88" y2="2400.74" stroke="#e4e4e4" stroke-width="2"/>
<line x1="251.23" y1="2065.78" x2="251.23" y2="2400.74" stroke="#e4e4e4" stroke-width="2"/>
<line x1="326.1" y1="2065.78" x2="326.1" y2="2400.74" stroke="#e4e4e4" stroke-width="2"/>
<line x1="401.21" y1="2065.78" x2="401.21" y2="2400.74" stroke="#e4e4e4" stroke-width="2"/>
<line x1="476.56" y1="2065.78" x2="476.56" y2="2400.74" stroke="#e4e4e4" stroke-width="2"/>
<line x1="82.29" y1="2386.15" x2="494.79" y2="2386.15" stroke="#e6e6e6" stroke-width="2.2"/>
<line x1="82.29" y1="2309.89" x2="494.79" y2="2309.89" stroke="#e6e6e6" stroke-width="2.2"/>
<line x1="82.29" y1="2233.62" x2="494.79" y2="2233.62" stroke="#e6e6e6" stroke-width="2.2"/>
<line x1="82.29" y1="2157.36" x2="494.79" y2="2157.36" stroke="#e6e6e6" stroke-width="2.2"/>
<line x1="82.29" y1="2081.09" x2="494.79" y2="2081.09" stroke="#e6e6e6" stroke-width="2.2"/>
<rect x="192.16" y="2065.78" width="16.04" height="334.96" fill="#dedede"/>
<rect x="273.84" y="2065.78" width="16.04" height="334.96" fill="#dedede"/>
<path d="M101.01 2081.09 L164.45 2081.09 L164.45 2093.98 L205.53 2093.98 L205.53 2107.34 L462.7 2107.34" fill="none" stroke="#2222d6" stroke-width="2" stroke-dasharray="10 4.5"/>
<path d="M113.89 2081.09 L113.89 2118.77 L115.11 2118.77 L115.11 2163.74 L145.49 2163.74 L145.49 2212.84 L164.45 2212.84 L164.45 2234.72 L205.53 2234.72 L205.53 2255.38 L462.7 2255.38" fill="none" stroke="#2222d6" stroke-width="2" stroke-dasharray="10 4.5"/>
<path d="M101.01 2081.09 L146.71 2081.09 L146.71 2132.14 L175.15 2132.14 L175.15 2152.07 L193.38 2152.07 L193.38 2196.07 L273.84 2196.07 L273.84 2217.94 L418.95 2217.94" fill="none" stroke="#dc2020" stroke-width="2" stroke-dasharray="10 4.5"/>
<path d="M121.91 2081.09 L121.91 2144.29 L129.69 2144.29 L129.69 2180.75 L143.79 2180.75 L143.79 2237.88 L146.71 2237.88 L146.71 2307.64 L175.15 2307.64 L175.15 2326.6 L193.38 2326.6 L193.38 2360.14 L273.84 2360.14 L273.84 2373.27 L418.95 2373.27" fill="none" stroke="#dc2020" stroke-width="2" stroke-dasharray="10 4.5"/>
<path d="M101.01 2081.09 L113.89 2081.09 L113.89 2099.32 L115.11 2099.32 L115.11 2118.28 L145.49 2118.28 L145.49 2156.93 L164.45 2156.93 L164.45 2176.38 L205.53 2176.38 L205.53 2195.34 L462.7 2195.34" fill="none" stroke="#1414e6" stroke-width="4.3"/>
<path d="M101.01 2081.09 L121.91 2081.09 L121.91 2104.18 L129.69 2104.18 L129.69 2128.01 L143.79 2128.01 L143.79 2174.68 L145.49 2174.68 L145.49 2244.68 L175.15 2244.68 L175.15 2268.26 L193.38 2268.26 L193.38 2315.66 L273.84 2315.66 L273.84 2339.24 L418.95 2339.24" fill="none" stroke="#e61414" stroke-width="4.3"/>
<line x1="340.04" y1="2195.34" x2="351.04" y2="2195.34" stroke="#666" stroke-width="1.7"/>
<line x1="345.54" y1="2189.84" x2="345.54" y2="2200.84" stroke="#666" stroke-width="1.7"/>
<line x1="363.62" y1="2195.34" x2="374.62" y2="2195.34" stroke="#666" stroke-width="1.7"/>
<line x1="369.12" y1="2189.84" x2="369.12" y2="2200.84" stroke="#666" stroke-width="1.7"/>
<line x1="382.34" y1="2195.34" x2="393.34" y2="2195.34" stroke="#666" stroke-width="1.7"/>
<line x1="387.84" y1="2189.84" x2="387.84" y2="2200.84" stroke="#666" stroke-width="1.7"/>
<line x1="387.2" y1="2195.34" x2="398.2" y2="2195.34" stroke="#666" stroke-width="1.7"/>
<line x1="392.7" y1="2189.84" x2="392.7" y2="2200.84" stroke="#666" stroke-width="1.7"/>
<line x1="394.73" y1="2195.34" x2="405.73" y2="2195.34" stroke="#666" stroke-width="1.7"/>
<line x1="400.23" y1="2189.84" x2="400.23" y2="2200.84" stroke="#666" stroke-width="1.7"/>
<line x1="422.45" y1="2195.34" x2="433.45" y2="2195.34" stroke="#666" stroke-width="1.7"/>
<line x1="427.95" y1="2189.84" x2="427.95" y2="2200.84" stroke="#666" stroke-width="1.7"/>
<line x1="429.25" y1="2195.34" x2="440.25" y2="2195.34" stroke="#666" stroke-width="1.7"/>
<line x1="434.75" y1="2189.84" x2="434.75" y2="2200.84" stroke="#666" stroke-width="1.7"/>
<line x1="437.76" y1="2195.34" x2="448.76" y2="2195.34" stroke="#666" stroke-width="1.7"/>
<line x1="443.26" y1="2189.84" x2="443.26" y2="2200.84" stroke="#666" stroke-width="1.7"/>
<line x1="457.2" y1="2195.34" x2="468.2" y2="2195.34" stroke="#666" stroke-width="1.7"/>
<line x1="462.7" y1="2189.84" x2="462.7" y2="2200.84" stroke="#666" stroke-width="1.7"/>
<line x1="359.25" y1="2339.24" x2="370.25" y2="2339.24" stroke="#666" stroke-width="1.7"/>
<line x1="364.75" y1="2333.74" x2="364.75" y2="2344.74" stroke="#666" stroke-width="1.7"/>
<line x1="413.45" y1="2339.24" x2="424.45" y2="2339.24" stroke="#666" stroke-width="1.7"/>
<line x1="418.95" y1="2333.74" x2="418.95" y2="2344.74" stroke="#666" stroke-width="1.7"/>
<rect x="192.16" y="2065.78" width="16.04" height="334.96" fill="#808080" fill-opacity="0.35"/>
<rect x="273.84" y="2065.78" width="16.04" height="334.96" fill="#808080" fill-opacity="0.35"/>
<line x1="208.21" y1="2400.74" x2="208.21" y2="2065.78" stroke="#000" stroke-width="2.3" stroke-dasharray="10 7.9" stroke-dashoffset="2.5"/>
<line x1="289.88" y1="2400.74" x2="289.88" y2="2065.78" stroke="#000" stroke-width="2.3" stroke-dasharray="10 7.9" stroke-dashoffset="2.5"/>
<rect x="82.29" y="2065.78" width="412.5" height="334.96" fill="none" stroke="#3c3c3c" stroke-width="1.7"/>
<line x1="101.01" y1="2400.74" x2="101.01" y2="2405.74" stroke="#333" stroke-width="1.6"/>
<line x1="175.88" y1="2400.74" x2="175.88" y2="2405.74" stroke="#333" stroke-width="1.6"/>
<line x1="251.23" y1="2400.74" x2="251.23" y2="2405.74" stroke="#333" stroke-width="1.6"/>
<line x1="326.1" y1="2400.74" x2="326.1" y2="2405.74" stroke="#333" stroke-width="1.6"/>
<line x1="401.21" y1="2400.74" x2="401.21" y2="2405.74" stroke="#333" stroke-width="1.6"/>
<line x1="476.56" y1="2400.74" x2="476.56" y2="2405.74" stroke="#333" stroke-width="1.6"/>
<line x1="77.29" y1="2386.15" x2="82.29" y2="2386.15" stroke="#333" stroke-width="1.6"/>
<line x1="77.29" y1="2309.89" x2="82.29" y2="2309.89" stroke="#333" stroke-width="1.6"/>
<line x1="77.29" y1="2233.62" x2="82.29" y2="2233.62" stroke="#333" stroke-width="1.6"/>
<line x1="77.29" y1="2157.36" x2="82.29" y2="2157.36" stroke="#333" stroke-width="1.6"/>
<line x1="77.29" y1="2081.09" x2="82.29" y2="2081.09" stroke="#333" stroke-width="1.6"/>
<text x="101.01" y="2424.74" font-size="20.6" text-anchor="middle">0</text>
<text x="175.88" y="2424.74" font-size="20.6" text-anchor="middle">5</text>
<text x="251.23" y="2424.74" font-size="20.6" text-anchor="middle">10</text>
<text x="326.1" y="2424.74" font-size="20.6" text-anchor="middle">15</text>
<text x="401.21" y="2424.74" font-size="20.6" text-anchor="middle">20</text>
<text x="476.56" y="2424.74" font-size="20.6" text-anchor="middle">25</text>
<text x="76.29" y="2393.45" font-size="20.6" text-anchor="end">0</text>
<text x="76.29" y="2317.19" font-size="20.6" text-anchor="end">25</text>
<text x="76.29" y="2240.92" font-size="20.6" text-anchor="end">50</text>
<text x="76.29" y="2164.66" font-size="20.6" text-anchor="end">75</text>
<text x="76.29" y="2088.39" font-size="20.6" text-anchor="end">100</text>
<text x="475.34" y="2100" font-size="29.0" text-anchor="end"><tspan font-style="italic">P</tspan> = 0.0188</text>
<text x="484.58" y="2181.35" font-size="20.6" font-weight="bold" text-anchor="end" fill="#1414e6">Low risk</text>
<text x="453.47" y="2325" font-size="20.6" font-weight="bold" text-anchor="end" fill="#e61414">High risk</text>
<text x="281.54" y="2451.74" font-size="29.3" text-anchor="middle">Time (months)</text>
<rect x="518.02" y="2065.78" width="413.23" height="334.96" fill="#fff"/>
<line x1="589.12" y1="2065.78" x2="589.12" y2="2400.74" stroke="#e9e9e9" stroke-width="1.9"/>
<line x1="693.89" y1="2065.78" x2="693.89" y2="2400.74" stroke="#e9e9e9" stroke-width="1.9"/>
<line x1="798.65" y1="2065.78" x2="798.65" y2="2400.74" stroke="#e9e9e9" stroke-width="1.9"/>
<line x1="903.9" y1="2065.78" x2="903.9" y2="2400.74" stroke="#e9e9e9" stroke-width="1.9"/>
<line x1="518.02" y1="2348.02" x2="931.25" y2="2348.02" stroke="#e9e9e9" stroke-width="1.9"/>
<line x1="518.02" y1="2271.75" x2="931.25" y2="2271.75" stroke="#e9e9e9" stroke-width="1.9"/>
<line x1="518.02" y1="2195.49" x2="931.25" y2="2195.49" stroke="#e9e9e9" stroke-width="1.9"/>
<line x1="518.02" y1="2119.22" x2="931.25" y2="2119.22" stroke="#e9e9e9" stroke-width="1.9"/>
<line x1="536.74" y1="2065.78" x2="536.74" y2="2400.74" stroke="#e4e4e4" stroke-width="2"/>
<line x1="641.5" y1="2065.78" x2="641.5" y2="2400.74" stroke="#e4e4e4" stroke-width="2"/>
<line x1="746.27" y1="2065.78" x2="746.27" y2="2400.74" stroke="#e4e4e4" stroke-width="2"/>
<line x1="851.52" y1="2065.78" x2="851.52" y2="2400.74" stroke="#e4e4e4" stroke-width="2"/>
<line x1="518.02" y1="2386.15" x2="931.25" y2="2386.15" stroke="#e6e6e6" stroke-width="2.2"/>
<line x1="518.02" y1="2309.89" x2="931.25" y2="2309.89" stroke="#e6e6e6" stroke-width="2.2"/>
<line x1="518.02" y1="2233.62" x2="931.25" y2="2233.62" stroke="#e6e6e6" stroke-width="2.2"/>
<line x1="518.02" y1="2157.36" x2="931.25" y2="2157.36" stroke="#e6e6e6" stroke-width="2.2"/>
<line x1="518.02" y1="2081.09" x2="931.25" y2="2081.09" stroke="#e6e6e6" stroke-width="2.2"/>
<rect x="599.21" y="2065.78" width="16.53" height="334.96" fill="#dedede"/>
<rect x="659.01" y="2065.78" width="16.29" height="334.96" fill="#dedede"/>
<path d="M536.74 2081.09 L570.77 2081.09 L570.77 2081.82 L599.45 2081.82 L599.45 2114.39 L912.29 2114.39" fill="none" stroke="#2222d6" stroke-width="2" stroke-dasharray="10 4.5"/>
<path d="M546.46 2081.09 L546.46 2145.02 L558.13 2145.02 L558.13 2210.65 L570.77 2210.65 L570.77 2238.6 L599.45 2238.6 L599.45 2286.49 L908.64 2286.49" fill="none" stroke="#2222d6" stroke-width="2" stroke-dasharray="10 4.5"/>
<path d="M536.74 2081.09 L558.62 2081.09 L558.62 2090.82 L564.69 2090.82 L564.69 2099.32 L567.61 2099.32 L567.61 2136.27 L574.41 2136.27 L574.41 2149.15 L580.98 2149.15 L580.98 2163.25 L598.72 2163.25 L598.72 2177.11 L824.05 2177.11" fill="none" stroke="#dc2020" stroke-width="2" stroke-dasharray="10 4.5"/>
<path d="M546.46 2081.09 L546.46 2122.41 L553.27 2122.41 L553.27 2190.48 L559.83 2190.48 L559.83 2206.28 L567.12 2206.28 L567.12 2273.12 L573.93 2273.12 L573.93 2287.71 L580.49 2287.71 L580.49 2301.56 L597.99 2301.56 L597.99 2314.93 L824.05 2314.93" fill="none" stroke="#dc2020" stroke-width="2" stroke-dasharray="10 4.5"/>
<path d="M536.74 2081.09 L546.46 2081.09 L546.46 2103.7 L558.13 2103.7 L558.13 2150.85 L570.77 2150.85 L570.77 2175.16 L599.45 2175.16 L599.45 2221.59 L912.29 2221.59" fill="none" stroke="#1414e6" stroke-width="4.3"/>
<path d="M536.74 2081.09 L546.46 2081.09 L546.46 2096.89 L551.81 2096.89 L551.81 2143.08 L559.83 2143.08 L559.83 2157.17 L567.12 2157.17 L567.12 2217.21 L573.93 2217.21 L573.93 2233.01 L580.49 2233.01 L580.49 2248.81 L597.99 2248.81 L597.99 2264.13 L824.05 2264.13" fill="none" stroke="#e61414" stroke-width="4.3"/>
<line x1="595.65" y1="2221.59" x2="606.65" y2="2221.59" stroke="#666" stroke-width="1.7"/>
<line x1="601.15" y1="2216.09" x2="601.15" y2="2227.09" stroke="#666" stroke-width="1.7"/>
<line x1="773.83" y1="2221.59" x2="784.83" y2="2221.59" stroke="#666" stroke-width="1.7"/>
<line x1="779.33" y1="2216.09" x2="779.33" y2="2227.09" stroke="#666" stroke-width="1.7"/>
<line x1="783.31" y1="2221.59" x2="794.31" y2="2221.59" stroke="#666" stroke-width="1.7"/>
<line x1="788.81" y1="2216.09" x2="788.81" y2="2227.09" stroke="#666" stroke-width="1.7"/>
<line x1="786.47" y1="2221.59" x2="797.47" y2="2221.59" stroke="#666" stroke-width="1.7"/>
<line x1="791.97" y1="2216.09" x2="791.97" y2="2227.09" stroke="#666" stroke-width="1.7"/>
<line x1="790.11" y1="2221.59" x2="801.11" y2="2221.59" stroke="#666" stroke-width="1.7"/>
<line x1="795.61" y1="2216.09" x2="795.61" y2="2227.09" stroke="#666" stroke-width="1.7"/>
<line x1="794.49" y1="2221.59" x2="805.49" y2="2221.59" stroke="#666" stroke-width="1.7"/>
<line x1="799.99" y1="2216.09" x2="799.99" y2="2227.09" stroke="#666" stroke-width="1.7"/>
<line x1="906.79" y1="2221.59" x2="917.79" y2="2221.59" stroke="#666" stroke-width="1.7"/>
<line x1="912.29" y1="2216.09" x2="912.29" y2="2227.09" stroke="#666" stroke-width="1.7"/>
<line x1="605.38" y1="2264.13" x2="616.38" y2="2264.13" stroke="#666" stroke-width="1.7"/>
<line x1="610.88" y1="2258.63" x2="610.88" y2="2269.63" stroke="#666" stroke-width="1.7"/>
<line x1="692.88" y1="2264.13" x2="703.88" y2="2264.13" stroke="#666" stroke-width="1.7"/>
<line x1="698.38" y1="2258.63" x2="698.38" y2="2269.63" stroke="#666" stroke-width="1.7"/>
<line x1="719.14" y1="2264.13" x2="730.14" y2="2264.13" stroke="#666" stroke-width="1.7"/>
<line x1="724.64" y1="2258.63" x2="724.64" y2="2269.63" stroke="#666" stroke-width="1.7"/>
<line x1="748.79" y1="2264.13" x2="759.79" y2="2264.13" stroke="#666" stroke-width="1.7"/>
<line x1="754.29" y1="2258.63" x2="754.29" y2="2269.63" stroke="#666" stroke-width="1.7"/>
<line x1="777.47" y1="2264.13" x2="788.47" y2="2264.13" stroke="#666" stroke-width="1.7"/>
<line x1="782.97" y1="2258.63" x2="782.97" y2="2269.63" stroke="#666" stroke-width="1.7"/>
<line x1="789.63" y1="2264.13" x2="800.63" y2="2264.13" stroke="#666" stroke-width="1.7"/>
<line x1="795.13" y1="2258.63" x2="795.13" y2="2269.63" stroke="#666" stroke-width="1.7"/>
<line x1="804.7" y1="2264.13" x2="815.7" y2="2264.13" stroke="#666" stroke-width="1.7"/>
<line x1="810.2" y1="2258.63" x2="810.2" y2="2269.63" stroke="#666" stroke-width="1.7"/>
<line x1="818.55" y1="2264.13" x2="829.55" y2="2264.13" stroke="#666" stroke-width="1.7"/>
<line x1="824.05" y1="2258.63" x2="824.05" y2="2269.63" stroke="#666" stroke-width="1.7"/>
<rect x="599.21" y="2065.78" width="16.53" height="334.96" fill="#808080" fill-opacity="0.35"/>
<rect x="659.01" y="2065.78" width="16.29" height="334.96" fill="#808080" fill-opacity="0.35"/>
<line x1="615.74" y1="2400.74" x2="615.74" y2="2065.78" stroke="#000" stroke-width="2.3" stroke-dasharray="10 7.9" stroke-dashoffset="2.5"/>
<line x1="675.29" y1="2400.74" x2="675.29" y2="2065.78" stroke="#000" stroke-width="2.3" stroke-dasharray="10 7.9" stroke-dashoffset="2.5"/>
<rect x="518.02" y="2065.78" width="413.23" height="334.96" fill="none" stroke="#3c3c3c" stroke-width="1.7"/>
<line x1="536.74" y1="2400.74" x2="536.74" y2="2405.74" stroke="#333" stroke-width="1.6"/>
<line x1="641.5" y1="2400.74" x2="641.5" y2="2405.74" stroke="#333" stroke-width="1.6"/>
<line x1="746.27" y1="2400.74" x2="746.27" y2="2405.74" stroke="#333" stroke-width="1.6"/>
<line x1="851.52" y1="2400.74" x2="851.52" y2="2405.74" stroke="#333" stroke-width="1.6"/>
<line x1="513.02" y1="2386.15" x2="518.02" y2="2386.15" stroke="#333" stroke-width="1.6"/>
<line x1="513.02" y1="2309.89" x2="518.02" y2="2309.89" stroke="#333" stroke-width="1.6"/>
<line x1="513.02" y1="2233.62" x2="518.02" y2="2233.62" stroke="#333" stroke-width="1.6"/>
<line x1="513.02" y1="2157.36" x2="518.02" y2="2157.36" stroke="#333" stroke-width="1.6"/>
<line x1="513.02" y1="2081.09" x2="518.02" y2="2081.09" stroke="#333" stroke-width="1.6"/>
<text x="536.74" y="2424.74" font-size="20.6" text-anchor="middle">0</text>
<text x="641.5" y="2424.74" font-size="20.6" text-anchor="middle">10</text>
<text x="746.27" y="2424.74" font-size="20.6" text-anchor="middle">20</text>
<text x="851.52" y="2424.74" font-size="20.6" text-anchor="middle">30</text>
<text x="915.21" y="2100" font-size="29.0" text-anchor="end"><tspan font-style="italic">P</tspan> = 0.369</text>
<text x="918.85" y="2210.52" font-size="20.6" font-weight="bold" text-anchor="end" fill="#1414e6">Low risk</text>
<text x="849.82" y="2252.57" font-size="20.6" font-weight="bold" text-anchor="end" fill="#e61414">High risk</text>
<text x="717.64" y="2451.74" font-size="29.3" text-anchor="middle">Time (months)</text>
<text x="1149.5" y="1299" font-size="55" font-weight="bold">g</text>
<text x="1428.8" y="1292" font-size="29" text-anchor="middle">Discovery cohort</text>
<text x="1864.8" y="1292" font-size="29.1" text-anchor="middle">Validation cohort</text>
<text x="1651.5" y="1328.6" font-size="29" font-weight="bold" text-anchor="middle">% CAR T<tspan dy="9.3" font-size="17.1">Reg</tspan><tspan dy="-9.3" font-size="29"> only</tspan></text>
<line x1="1238" y1="1349.8" x2="2069.8" y2="1349.8" stroke="#000" stroke-width="4.2"/>
<text x="1651.5" y="1893.5" font-size="29" font-weight="bold" text-anchor="middle">LDH<tspan dy="9.3" font-size="17.1">High</tspan><tspan dy="-9.3" font-size="29"> only</tspan></text>
<line x1="1238" y1="1914.4" x2="2069.8" y2="1914.4" stroke="#000" stroke-width="4.2"/>
<text x="1397.6" y="1375.8" font-size="20.6" text-anchor="middle">6 months</text>
<text x="1573.9" y="1375.8" font-size="20.6" text-anchor="middle">12 months</text>
<text x="1360.9" y="1402.8" font-size="20.6" font-weight="bold" text-anchor="middle">Low</text>
<text x="1436.5" y="1402.8" font-size="20.6" font-weight="bold" text-anchor="middle">High</text>
<text x="1538.5" y="1402.8" font-size="20.6" font-weight="bold" text-anchor="middle">Low</text>
<text x="1614.2" y="1402.8" font-size="20.6" font-weight="bold" text-anchor="middle">High</text>
<text x="1264.3" y="1424.8" font-size="20.6" font-weight="bold" text-anchor="middle">At risk</text>
<text x="1264.3" y="1446.4" font-size="20.6" font-weight="bold" text-anchor="middle">Death</text>
<text x="1264.3" y="1468" font-size="20.6" font-weight="bold" text-anchor="middle">OS</text>
<text x="1264.3" y="1489.6" font-size="20.6" font-weight="bold" text-anchor="middle">SE</text>
<text x="1360.9" y="1424.8" font-size="20.6" text-anchor="middle">n = 8</text>
<text x="1436.5" y="1424.8" font-size="20.6" text-anchor="middle">n = 16</text>
<text x="1538.5" y="1424.8" font-size="20.6" text-anchor="middle">n = 7</text>
<text x="1614.2" y="1424.8" font-size="20.6" text-anchor="middle">n = 14</text>
<text x="1360.9" y="1446.4" font-size="20.6" text-anchor="middle">n = 0</text>
<text x="1436.5" y="1446.4" font-size="20.6" text-anchor="middle">n = 4</text>
<text x="1538.5" y="1446.4" font-size="20.6" text-anchor="middle">n = 1</text>
<text x="1614.2" y="1446.4" font-size="20.6" text-anchor="middle">n = 6</text>
<text x="1360.9" y="1468" font-size="20.6" text-anchor="middle">100.0%</text>
<text x="1436.5" y="1468" font-size="20.6" text-anchor="middle">80.0%</text>
<text x="1538.5" y="1468" font-size="20.6" text-anchor="middle">87.5%</text>
<text x="1614.2" y="1468" font-size="20.6" text-anchor="middle">70.0%</text>
<text x="1360.9" y="1489.6" font-size="20.6" text-anchor="middle">0.0%</text>
<text x="1436.5" y="1489.6" font-size="20.6" text-anchor="middle">8.9%</text>
<text x="1538.5" y="1489.6" font-size="20.6" text-anchor="middle">11.7%</text>
<text x="1614.2" y="1489.6" font-size="20.6" text-anchor="middle">10.2%</text>
<text x="1833.5" y="1375.8" font-size="20.6" text-anchor="middle">6 months</text>
<text x="2010.1" y="1375.8" font-size="20.6" text-anchor="middle">12 months</text>
<text x="1796.8" y="1402.8" font-size="20.6" font-weight="bold" text-anchor="middle">Low</text>
<text x="1872.4" y="1402.8" font-size="20.6" font-weight="bold" text-anchor="middle">High</text>
<text x="1974.4" y="1402.8" font-size="20.6" font-weight="bold" text-anchor="middle">Low</text>
<text x="2050.1" y="1402.8" font-size="20.6" font-weight="bold" text-anchor="middle">High</text>
<text x="1796.8" y="1424.8" font-size="20.6" text-anchor="middle">n = 9</text>
<text x="1872.4" y="1424.8" font-size="20.6" text-anchor="middle">n = 7</text>
<text x="1974.4" y="1424.8" font-size="20.6" text-anchor="middle">n = 6</text>
<text x="2050.1" y="1424.8" font-size="20.6" text-anchor="middle">n = 3</text>
<text x="1796.8" y="1446.4" font-size="20.6" text-anchor="middle">n = 2</text>
<text x="1872.4" y="1446.4" font-size="20.6" text-anchor="middle">n = 5</text>
<text x="1974.4" y="1446.4" font-size="20.6" text-anchor="middle">n = 4</text>
<text x="2050.1" y="1446.4" font-size="20.6" text-anchor="middle">n = 6</text>
<text x="1796.8" y="1468" font-size="20.6" text-anchor="middle">81.8%</text>
<text x="1872.4" y="1468" font-size="20.6" text-anchor="middle">58.3%</text>
<text x="1974.4" y="1468" font-size="20.6" text-anchor="middle">61.4%</text>
<text x="2050.1" y="1468" font-size="20.6" text-anchor="middle">43.8%</text>
<text x="1796.8" y="1489.6" font-size="20.6" text-anchor="middle">11.6%</text>
<text x="1872.4" y="1489.6" font-size="20.6" text-anchor="middle">14.2%</text>
<text x="1974.4" y="1489.6" font-size="20.6" text-anchor="middle">15.3%</text>
<text x="2050.1" y="1489.6" font-size="20.6" text-anchor="middle">16.5%</text>
<text x="1397.6" y="1939.3" font-size="20.6" text-anchor="middle">6 months</text>
<text x="1573.9" y="1939.3" font-size="20.6" text-anchor="middle">12 months</text>
<text x="1360.9" y="1966.3" font-size="20.6" font-weight="bold" text-anchor="middle">Low</text>
<text x="1436.5" y="1966.3" font-size="20.6" font-weight="bold" text-anchor="middle">High</text>
<text x="1538.5" y="1966.3" font-size="20.6" font-weight="bold" text-anchor="middle">Low</text>
<text x="1614.2" y="1966.3" font-size="20.6" font-weight="bold" text-anchor="middle">High</text>
<text x="1264.3" y="1988.3" font-size="20.6" font-weight="bold" text-anchor="middle">At risk</text>
<text x="1264.3" y="2009.9" font-size="20.6" font-weight="bold" text-anchor="middle">Death</text>
<text x="1264.3" y="2031.5" font-size="20.6" font-weight="bold" text-anchor="middle">OS</text>
<text x="1264.3" y="2053.1" font-size="20.6" font-weight="bold" text-anchor="middle">SE</text>
<text x="1360.9" y="1988.3" font-size="20.6" text-anchor="middle">n = 15</text>
<text x="1436.5" y="1988.3" font-size="20.6" text-anchor="middle">n = 10</text>
<text x="1538.5" y="1988.3" font-size="20.6" text-anchor="middle">n = 14</text>
<text x="1614.2" y="1988.3" font-size="20.6" text-anchor="middle">n = 8</text>
<text x="1360.9" y="2009.9" font-size="20.6" text-anchor="middle">n = 1</text>
<text x="1436.5" y="2009.9" font-size="20.6" text-anchor="middle">n = 3</text>
<text x="1538.5" y="2009.9" font-size="20.6" text-anchor="middle">n = 2</text>
<text x="1614.2" y="2009.9" font-size="20.6" text-anchor="middle">n = 5</text>
<text x="1360.9" y="2031.5" font-size="20.6" text-anchor="middle">93.8%</text>
<text x="1436.5" y="2031.5" font-size="20.6" text-anchor="middle">76.9%</text>
<text x="1538.5" y="2031.5" font-size="20.6" text-anchor="middle">87.5%</text>
<text x="1614.2" y="2031.5" font-size="20.6" text-anchor="middle">61.5%</text>
<text x="1360.9" y="2053.1" font-size="20.6" text-anchor="middle">6.1%</text>
<text x="1436.5" y="2053.1" font-size="20.6" text-anchor="middle">11.7%</text>
<text x="1538.5" y="2053.1" font-size="20.6" text-anchor="middle">8.3%</text>
<text x="1614.2" y="2053.1" font-size="20.6" text-anchor="middle">13.5%</text>
<text x="1833.5" y="1939.3" font-size="20.6" text-anchor="middle">6 months</text>
<text x="2010.1" y="1939.3" font-size="20.6" text-anchor="middle">12 months</text>
<text x="1796.8" y="1966.3" font-size="20.6" font-weight="bold" text-anchor="middle">Low</text>
<text x="1872.4" y="1966.3" font-size="20.6" font-weight="bold" text-anchor="middle">High</text>
<text x="1974.4" y="1966.3" font-size="20.6" font-weight="bold" text-anchor="middle">Low</text>
<text x="2050.1" y="1966.3" font-size="20.6" font-weight="bold" text-anchor="middle">High</text>
<text x="1796.8" y="1988.3" font-size="20.6" text-anchor="middle">n = 10</text>
<text x="1872.4" y="1988.3" font-size="20.6" text-anchor="middle">n = 13</text>
<text x="1974.4" y="1988.3" font-size="20.6" text-anchor="middle">n = 6</text>
<text x="2050.1" y="1988.3" font-size="20.6" text-anchor="middle">n = 10</text>
<text x="1796.8" y="2009.9" font-size="20.6" text-anchor="middle">n = 3</text>
<text x="1872.4" y="2009.9" font-size="20.6" text-anchor="middle">n = 6</text>
<text x="1974.4" y="2009.9" font-size="20.6" text-anchor="middle">n = 4</text>
<text x="2050.1" y="2009.9" font-size="20.6" text-anchor="middle">n = 8</text>
<text x="1796.8" y="2031.5" font-size="20.6" text-anchor="middle">76.9%</text>
<text x="1872.4" y="2031.5" font-size="20.6" text-anchor="middle">68.4%</text>
<text x="1974.4" y="2031.5" font-size="20.6" text-anchor="middle">65.9%</text>
<text x="2050.1" y="2031.5" font-size="20.6" text-anchor="middle">57.0%</text>
<text x="1796.8" y="2053.1" font-size="20.6" text-anchor="middle">11.7%</text>
<text x="1872.4" y="2053.1" font-size="20.6" text-anchor="middle">10.7%</text>
<text x="1974.4" y="2053.1" font-size="20.6" text-anchor="middle">14.3%</text>
<text x="2050.1" y="2053.1" font-size="20.6" text-anchor="middle">11.5%</text>
<text x="1181.5" y="1671" font-size="29" text-anchor="middle" transform="rotate(-90 1181.5 1671)">Overall survival (%)</text>
<text x="1181.5" y="2234" font-size="29" text-anchor="middle" transform="rotate(-90 1181.5 2234)">Overall survival (%)</text>
<rect x="1232.29" y="1502.29" width="413.23" height="335.44" fill="#fff"/>
<line x1="1288.44" y1="1502.29" x2="1288.44" y2="1837.74" stroke="#e9e9e9" stroke-width="1.9"/>
<line x1="1363.31" y1="1502.29" x2="1363.31" y2="1837.74" stroke="#e9e9e9" stroke-width="1.9"/>
<line x1="1438.66" y1="1502.29" x2="1438.66" y2="1837.74" stroke="#e9e9e9" stroke-width="1.9"/>
<line x1="1513.53" y1="1502.29" x2="1513.53" y2="1837.74" stroke="#e9e9e9" stroke-width="1.9"/>
<line x1="1588.64" y1="1502.29" x2="1588.64" y2="1837.74" stroke="#e9e9e9" stroke-width="1.9"/>
<line x1="1232.29" y1="1784.5" x2="1645.52" y2="1784.5" stroke="#e9e9e9" stroke-width="1.9"/>
<line x1="1232.29" y1="1708.18" x2="1645.52" y2="1708.18" stroke="#e9e9e9" stroke-width="1.9"/>
<line x1="1232.29" y1="1631.85" x2="1645.52" y2="1631.85" stroke="#e9e9e9" stroke-width="1.9"/>
<line x1="1232.29" y1="1555.53" x2="1645.52" y2="1555.53" stroke="#e9e9e9" stroke-width="1.9"/>
<line x1="1251.01" y1="1502.29" x2="1251.01" y2="1837.74" stroke="#e4e4e4" stroke-width="2"/>
<line x1="1325.88" y1="1502.29" x2="1325.88" y2="1837.74" stroke="#e4e4e4" stroke-width="2"/>
<line x1="1401.23" y1="1502.29" x2="1401.23" y2="1837.74" stroke="#e4e4e4" stroke-width="2"/>
<line x1="1476.1" y1="1502.29" x2="1476.1" y2="1837.74" stroke="#e4e4e4" stroke-width="2"/>
<line x1="1551.21" y1="1502.29" x2="1551.21" y2="1837.74" stroke="#e4e4e4" stroke-width="2"/>
<line x1="1626.56" y1="1502.29" x2="1626.56" y2="1837.74" stroke="#e4e4e4" stroke-width="2"/>
<line x1="1232.29" y1="1822.67" x2="1645.52" y2="1822.67" stroke="#e6e6e6" stroke-width="2.2"/>
<line x1="1232.29" y1="1746.34" x2="1645.52" y2="1746.34" stroke="#e6e6e6" stroke-width="2.2"/>
<line x1="1232.29" y1="1670.01" x2="1645.52" y2="1670.01" stroke="#e6e6e6" stroke-width="2.2"/>
<line x1="1232.29" y1="1593.69" x2="1645.52" y2="1593.69" stroke="#e6e6e6" stroke-width="2.2"/>
<line x1="1232.29" y1="1517.36" x2="1645.52" y2="1517.36" stroke="#e6e6e6" stroke-width="2.2"/>
<path d="M1251.01 1517.36 L1593.26 1517.36" fill="none" stroke="#2222d6" stroke-width="2" stroke-dasharray="10 4.5"/>
<path d="M1390.29 1517.36 L1390.29 1616.54 L1593.26 1616.54" fill="none" stroke="#2222d6" stroke-width="2" stroke-dasharray="10 4.5"/>
<path d="M1251.01 1517.36 L1358.21 1517.36 L1358.21 1526.6 L1361.12 1526.6 L1361.12 1538.02 L1473.42 1538.02 L1473.42 1548.48 L1487.52 1548.48 L1487.52 1560.14 L1501.62 1560.14 L1501.62 1572.78 L1532.98 1572.78 L1532.98 1585.91 L1611.49 1585.91" fill="none" stroke="#dc2020" stroke-width="2" stroke-dasharray="10 4.5"/>
<path d="M1299.14 1517.36 L1299.14 1559.41 L1302.3 1559.41 L1302.3 1584.94 L1310.81 1584.94 L1310.81 1606.33 L1335.6 1606.33 L1335.6 1626.26 L1358.21 1626.26 L1358.21 1645.71 L1361.12 1645.71 L1361.12 1662.24 L1472.94 1662.24 L1472.94 1678.52 L1487.52 1678.52 L1487.52 1694.81 L1501.62 1694.81 L1501.62 1709.64 L1532.98 1709.64 L1532.98 1723.98 L1614.65 1723.98" fill="none" stroke="#dc2020" stroke-width="2" stroke-dasharray="10 4.5"/>
<path d="M1251.01 1517.36 L1390.29 1517.36 L1390.29 1555.04 L1593.26 1555.04" fill="none" stroke="#1414e6" stroke-width="4.3"/>
<path d="M1251.01 1517.36 L1299.14 1517.36 L1299.14 1532.68 L1301.57 1532.68 L1301.57 1547.26 L1310.08 1547.26 L1310.08 1562.57 L1334.87 1562.57 L1334.87 1578.13 L1358.21 1578.13 L1358.21 1593.45 L1360.64 1593.45 L1360.64 1608.76 L1472.94 1608.76 L1472.94 1623.83 L1487.04 1623.83 L1487.04 1639.63 L1501.62 1639.63 L1501.62 1654.7 L1532.98 1654.7 L1532.98 1669.53 L1614.65 1669.53" fill="none" stroke="#e61414" stroke-width="4.3"/>
<line x1="1483.97" y1="1555.04" x2="1494.97" y2="1555.04" stroke="#666" stroke-width="1.7"/>
<line x1="1489.47" y1="1549.54" x2="1489.47" y2="1560.54" stroke="#666" stroke-width="1.7"/>
<line x1="1487.61" y1="1555.04" x2="1498.61" y2="1555.04" stroke="#666" stroke-width="1.7"/>
<line x1="1493.11" y1="1549.54" x2="1493.11" y2="1560.54" stroke="#666" stroke-width="1.7"/>
<line x1="1491.26" y1="1555.04" x2="1502.26" y2="1555.04" stroke="#666" stroke-width="1.7"/>
<line x1="1496.76" y1="1549.54" x2="1496.76" y2="1560.54" stroke="#666" stroke-width="1.7"/>
<line x1="1509.97" y1="1555.04" x2="1520.97" y2="1555.04" stroke="#666" stroke-width="1.7"/>
<line x1="1515.47" y1="1549.54" x2="1515.47" y2="1560.54" stroke="#666" stroke-width="1.7"/>
<line x1="1514.11" y1="1555.04" x2="1525.11" y2="1555.04" stroke="#666" stroke-width="1.7"/>
<line x1="1519.61" y1="1549.54" x2="1519.61" y2="1560.54" stroke="#666" stroke-width="1.7"/>
<line x1="1537.44" y1="1555.04" x2="1548.44" y2="1555.04" stroke="#666" stroke-width="1.7"/>
<line x1="1542.94" y1="1549.54" x2="1542.94" y2="1560.54" stroke="#666" stroke-width="1.7"/>
<line x1="1545.22" y1="1555.04" x2="1556.22" y2="1555.04" stroke="#666" stroke-width="1.7"/>
<line x1="1550.72" y1="1549.54" x2="1550.72" y2="1560.54" stroke="#666" stroke-width="1.7"/>
<line x1="1587.76" y1="1555.04" x2="1598.76" y2="1555.04" stroke="#666" stroke-width="1.7"/>
<line x1="1593.26" y1="1549.54" x2="1593.26" y2="1560.54" stroke="#666" stroke-width="1.7"/>
<line x1="1527.48" y1="1669.53" x2="1538.48" y2="1669.53" stroke="#666" stroke-width="1.7"/>
<line x1="1532.98" y1="1664.03" x2="1532.98" y2="1675.03" stroke="#666" stroke-width="1.7"/>
<line x1="1531.37" y1="1669.53" x2="1542.37" y2="1669.53" stroke="#666" stroke-width="1.7"/>
<line x1="1536.87" y1="1664.03" x2="1536.87" y2="1675.03" stroke="#666" stroke-width="1.7"/>
<line x1="1545.22" y1="1669.53" x2="1556.22" y2="1669.53" stroke="#666" stroke-width="1.7"/>
<line x1="1550.72" y1="1664.03" x2="1550.72" y2="1675.03" stroke="#666" stroke-width="1.7"/>
<line x1="1563.94" y1="1669.53" x2="1574.94" y2="1669.53" stroke="#666" stroke-width="1.7"/>
<line x1="1569.44" y1="1664.03" x2="1569.44" y2="1675.03" stroke="#666" stroke-width="1.7"/>
<line x1="1572.45" y1="1669.53" x2="1583.45" y2="1669.53" stroke="#666" stroke-width="1.7"/>
<line x1="1577.95" y1="1664.03" x2="1577.95" y2="1675.03" stroke="#666" stroke-width="1.7"/>
<line x1="1579.25" y1="1669.53" x2="1590.25" y2="1669.53" stroke="#666" stroke-width="1.7"/>
<line x1="1584.75" y1="1664.03" x2="1584.75" y2="1675.03" stroke="#666" stroke-width="1.7"/>
<line x1="1597" y1="1669.53" x2="1608" y2="1669.53" stroke="#666" stroke-width="1.7"/>
<line x1="1602.5" y1="1664.03" x2="1602.5" y2="1675.03" stroke="#666" stroke-width="1.7"/>
<line x1="1602.34" y1="1669.53" x2="1613.34" y2="1669.53" stroke="#666" stroke-width="1.7"/>
<line x1="1607.84" y1="1664.03" x2="1607.84" y2="1675.03" stroke="#666" stroke-width="1.7"/>
<line x1="1607.2" y1="1669.53" x2="1618.2" y2="1669.53" stroke="#666" stroke-width="1.7"/>
<line x1="1612.7" y1="1664.03" x2="1612.7" y2="1675.03" stroke="#666" stroke-width="1.7"/>
<line x1="1609.15" y1="1669.53" x2="1620.15" y2="1669.53" stroke="#666" stroke-width="1.7"/>
<line x1="1614.65" y1="1664.03" x2="1614.65" y2="1675.03" stroke="#666" stroke-width="1.7"/>
<line x1="1341.19" y1="1837.74" x2="1341.19" y2="1502.29" stroke="#000" stroke-width="2.3" stroke-dasharray="10 7.9" stroke-dashoffset="2.5"/>
<line x1="1431.13" y1="1837.74" x2="1431.13" y2="1502.29" stroke="#000" stroke-width="2.3" stroke-dasharray="10 7.9" stroke-dashoffset="2.5"/>
<rect x="1232.29" y="1502.29" width="413.23" height="335.44" fill="none" stroke="#3c3c3c" stroke-width="1.7"/>
<line x1="1251.01" y1="1837.74" x2="1251.01" y2="1842.74" stroke="#333" stroke-width="1.6"/>
<line x1="1325.88" y1="1837.74" x2="1325.88" y2="1842.74" stroke="#333" stroke-width="1.6"/>
<line x1="1401.23" y1="1837.74" x2="1401.23" y2="1842.74" stroke="#333" stroke-width="1.6"/>
<line x1="1476.1" y1="1837.74" x2="1476.1" y2="1842.74" stroke="#333" stroke-width="1.6"/>
<line x1="1551.21" y1="1837.74" x2="1551.21" y2="1842.74" stroke="#333" stroke-width="1.6"/>
<line x1="1626.56" y1="1837.74" x2="1626.56" y2="1842.74" stroke="#333" stroke-width="1.6"/>
<line x1="1227.29" y1="1822.67" x2="1232.29" y2="1822.67" stroke="#333" stroke-width="1.6"/>
<line x1="1227.29" y1="1746.34" x2="1232.29" y2="1746.34" stroke="#333" stroke-width="1.6"/>
<line x1="1227.29" y1="1670.01" x2="1232.29" y2="1670.01" stroke="#333" stroke-width="1.6"/>
<line x1="1227.29" y1="1593.69" x2="1232.29" y2="1593.69" stroke="#333" stroke-width="1.6"/>
<line x1="1227.29" y1="1517.36" x2="1232.29" y2="1517.36" stroke="#333" stroke-width="1.6"/>
<text x="1251.01" y="1861.74" font-size="20.6" text-anchor="middle">0</text>
<text x="1325.88" y="1861.74" font-size="20.6" text-anchor="middle">5</text>
<text x="1401.23" y="1861.74" font-size="20.6" text-anchor="middle">10</text>
<text x="1476.1" y="1861.74" font-size="20.6" text-anchor="middle">15</text>
<text x="1551.21" y="1861.74" font-size="20.6" text-anchor="middle">20</text>
<text x="1626.56" y="1861.74" font-size="20.6" text-anchor="middle">25</text>
<text x="1226.29" y="1829.97" font-size="20.6" text-anchor="end">0</text>
<text x="1226.29" y="1753.64" font-size="20.6" text-anchor="end">25</text>
<text x="1226.29" y="1677.31" font-size="20.6" text-anchor="end">50</text>
<text x="1226.29" y="1600.99" font-size="20.6" text-anchor="end">75</text>
<text x="1226.29" y="1524.66" font-size="20.6" text-anchor="end">100</text>
<text x="1635.8" y="1826.75" font-size="29.0" text-anchor="end"><tspan font-style="italic">P</tspan> = 0.110</text>
<text x="1634.58" y="1542.51" font-size="20.6" font-weight="bold" text-anchor="end" fill="#1414e6">Low risk</text>
<text x="1637.01" y="1655.54" font-size="20.6" font-weight="bold" text-anchor="end" fill="#e61414">High risk</text>
<rect x="1668.51" y="1502.29" width="412.74" height="335.44" fill="#fff"/>
<line x1="1739.61" y1="1502.29" x2="1739.61" y2="1837.74" stroke="#e9e9e9" stroke-width="1.9"/>
<line x1="1844.37" y1="1502.29" x2="1844.37" y2="1837.74" stroke="#e9e9e9" stroke-width="1.9"/>
<line x1="1949.38" y1="1502.29" x2="1949.38" y2="1837.74" stroke="#e9e9e9" stroke-width="1.9"/>
<line x1="2054.39" y1="1502.29" x2="2054.39" y2="1837.74" stroke="#e9e9e9" stroke-width="1.9"/>
<line x1="1668.51" y1="1784.5" x2="2081.25" y2="1784.5" stroke="#e9e9e9" stroke-width="1.9"/>
<line x1="1668.51" y1="1708.18" x2="2081.25" y2="1708.18" stroke="#e9e9e9" stroke-width="1.9"/>
<line x1="1668.51" y1="1631.85" x2="2081.25" y2="1631.85" stroke="#e9e9e9" stroke-width="1.9"/>
<line x1="1668.51" y1="1555.53" x2="2081.25" y2="1555.53" stroke="#e9e9e9" stroke-width="1.9"/>
<line x1="1687.22" y1="1502.29" x2="1687.22" y2="1837.74" stroke="#e4e4e4" stroke-width="2"/>
<line x1="1791.99" y1="1502.29" x2="1791.99" y2="1837.74" stroke="#e4e4e4" stroke-width="2"/>
<line x1="1897" y1="1502.29" x2="1897" y2="1837.74" stroke="#e4e4e4" stroke-width="2"/>
<line x1="2002.01" y1="1502.29" x2="2002.01" y2="1837.74" stroke="#e4e4e4" stroke-width="2"/>
<line x1="1668.51" y1="1822.67" x2="2081.25" y2="1822.67" stroke="#e6e6e6" stroke-width="2.2"/>
<line x1="1668.51" y1="1746.34" x2="2081.25" y2="1746.34" stroke="#e6e6e6" stroke-width="2.2"/>
<line x1="1668.51" y1="1670.01" x2="2081.25" y2="1670.01" stroke="#e6e6e6" stroke-width="2.2"/>
<line x1="1668.51" y1="1593.69" x2="2081.25" y2="1593.69" stroke="#e6e6e6" stroke-width="2.2"/>
<line x1="1668.51" y1="1517.36" x2="2081.25" y2="1517.36" stroke="#e6e6e6" stroke-width="2.2"/>
<path d="M1687.22 1517.36 L1929.81 1517.36 L1929.81 1533.41 L2062.29 1533.41" fill="none" stroke="#2222d6" stroke-width="2" stroke-dasharray="10 4.5"/>
<path d="M1723.2 1517.36 L1723.2 1572.78 L1726.12 1572.78 L1726.12 1633.55 L1761.36 1633.55 L1761.36 1673.66 L1795.39 1673.66 L1795.39 1707.69 L1929.81 1707.69 L1929.81 1744.64 L2062.29 1744.64" fill="none" stroke="#2222d6" stroke-width="2" stroke-dasharray="10 4.5"/>
<path d="M1687.22 1517.36 L1747.51 1517.36 L1747.51 1535.11 L1796.85 1535.11 L1796.85 1541.91 L1920.58 1541.91" fill="none" stroke="#dc2020" stroke-width="2" stroke-dasharray="10 4.5"/>
<path d="M1713.96 1517.36 L1713.96 1586.15 L1722.71 1586.15 L1722.71 1626.26 L1730.49 1626.26 L1730.49 1657.37 L1745.08 1657.37 L1745.08 1687.03 L1747.51 1687.03 L1747.51 1712.55 L1796.85 1712.55 L1796.85 1758.74 L1920.58 1758.74" fill="none" stroke="#dc2020" stroke-width="2" stroke-dasharray="10 4.5"/>
<path d="M1687.22 1517.36 L1723.2 1517.36 L1723.2 1544.83 L1726.12 1544.83 L1726.12 1572.78 L1761.36 1572.78 L1761.36 1603.65 L1795.39 1603.65 L1795.39 1635.25 L1929.81 1635.25 L1929.81 1672.44 L2062.29 1672.44" fill="none" stroke="#1414e6" stroke-width="4.3"/>
<path d="M1687.22 1517.36 L1713.96 1517.36 L1713.96 1542.4 L1723.93 1542.4 L1723.93 1567.92 L1730.49 1567.92 L1730.49 1593.45 L1745.08 1593.45 L1745.08 1618.97 L1747.51 1618.97 L1747.51 1644.01 L1796.85 1644.01 L1796.85 1688.97 L1920.58 1688.97" fill="none" stroke="#e61414" stroke-width="4.3"/>
<line x1="1755.86" y1="1572.78" x2="1766.86" y2="1572.78" stroke="#666" stroke-width="1.7"/>
<line x1="1761.36" y1="1567.28" x2="1761.36" y2="1578.28" stroke="#666" stroke-width="1.7"/>
<line x1="1869.62" y1="1635.25" x2="1880.62" y2="1635.25" stroke="#666" stroke-width="1.7"/>
<line x1="1875.12" y1="1629.75" x2="1875.12" y2="1640.75" stroke="#666" stroke-width="1.7"/>
<line x1="1933.55" y1="1672.44" x2="1944.55" y2="1672.44" stroke="#666" stroke-width="1.7"/>
<line x1="1939.05" y1="1666.94" x2="1939.05" y2="1677.94" stroke="#666" stroke-width="1.7"/>
<line x1="1936.47" y1="1672.44" x2="1947.47" y2="1672.44" stroke="#666" stroke-width="1.7"/>
<line x1="1941.97" y1="1666.94" x2="1941.97" y2="1677.94" stroke="#666" stroke-width="1.7"/>
<line x1="1944.97" y1="1672.44" x2="1955.97" y2="1672.44" stroke="#666" stroke-width="1.7"/>
<line x1="1950.47" y1="1666.94" x2="1950.47" y2="1677.94" stroke="#666" stroke-width="1.7"/>
<line x1="2056.79" y1="1672.44" x2="2067.79" y2="1672.44" stroke="#666" stroke-width="1.7"/>
<line x1="2062.29" y1="1666.94" x2="2062.29" y2="1677.94" stroke="#666" stroke-width="1.7"/>
<line x1="1745.65" y1="1644.01" x2="1756.65" y2="1644.01" stroke="#666" stroke-width="1.7"/>
<line x1="1751.15" y1="1638.51" x2="1751.15" y2="1649.51" stroke="#666" stroke-width="1.7"/>
<line x1="1750.51" y1="1644.01" x2="1761.51" y2="1644.01" stroke="#666" stroke-width="1.7"/>
<line x1="1756.01" y1="1638.51" x2="1756.01" y2="1649.51" stroke="#666" stroke-width="1.7"/>
<line x1="1754.16" y1="1644.01" x2="1765.16" y2="1644.01" stroke="#666" stroke-width="1.7"/>
<line x1="1759.66" y1="1638.51" x2="1759.66" y2="1649.51" stroke="#666" stroke-width="1.7"/>
<line x1="1862.33" y1="1688.97" x2="1873.33" y2="1688.97" stroke="#666" stroke-width="1.7"/>
<line x1="1867.83" y1="1683.47" x2="1867.83" y2="1694.47" stroke="#666" stroke-width="1.7"/>
<line x1="1899.28" y1="1688.97" x2="1910.28" y2="1688.97" stroke="#666" stroke-width="1.7"/>
<line x1="1904.78" y1="1683.47" x2="1904.78" y2="1694.47" stroke="#666" stroke-width="1.7"/>
<line x1="1914.59" y1="1688.97" x2="1925.59" y2="1688.97" stroke="#666" stroke-width="1.7"/>
<line x1="1920.09" y1="1683.47" x2="1920.09" y2="1694.47" stroke="#666" stroke-width="1.7"/>
<line x1="1749.94" y1="1837.74" x2="1749.94" y2="1502.29" stroke="#000" stroke-width="2.3" stroke-dasharray="10 7.9" stroke-dashoffset="2.5"/>
<line x1="1813.14" y1="1837.74" x2="1813.14" y2="1502.29" stroke="#000" stroke-width="2.3" stroke-dasharray="10 7.9" stroke-dashoffset="2.5"/>
<rect x="1668.51" y="1502.29" width="412.74" height="335.44" fill="none" stroke="#3c3c3c" stroke-width="1.7"/>
<line x1="1687.22" y1="1837.74" x2="1687.22" y2="1842.74" stroke="#333" stroke-width="1.6"/>
<line x1="1791.99" y1="1837.74" x2="1791.99" y2="1842.74" stroke="#333" stroke-width="1.6"/>
<line x1="1897" y1="1837.74" x2="1897" y2="1842.74" stroke="#333" stroke-width="1.6"/>
<line x1="2002.01" y1="1837.74" x2="2002.01" y2="1842.74" stroke="#333" stroke-width="1.6"/>
<line x1="1663.51" y1="1822.67" x2="1668.51" y2="1822.67" stroke="#333" stroke-width="1.6"/>
<line x1="1663.51" y1="1746.34" x2="1668.51" y2="1746.34" stroke="#333" stroke-width="1.6"/>
<line x1="1663.51" y1="1670.01" x2="1668.51" y2="1670.01" stroke="#333" stroke-width="1.6"/>
<line x1="1663.51" y1="1593.69" x2="1668.51" y2="1593.69" stroke="#333" stroke-width="1.6"/>
<line x1="1663.51" y1="1517.36" x2="1668.51" y2="1517.36" stroke="#333" stroke-width="1.6"/>
<text x="1687.22" y="1861.74" font-size="20.6" text-anchor="middle">0</text>
<text x="1791.99" y="1861.74" font-size="20.6" text-anchor="middle">10</text>
<text x="1897" y="1861.74" font-size="20.6" text-anchor="middle">20</text>
<text x="2002.01" y="1861.74" font-size="20.6" text-anchor="middle">30</text>
<text x="2070.8" y="1826.75" font-size="29.0" text-anchor="end"><tspan font-style="italic">P</tspan> = 0.367</text>
<text x="2069.58" y="1659.91" font-size="20.6" font-weight="bold" text-anchor="end" fill="#1414e6">Low risk</text>
<text x="1915.96" y="1676.68" font-size="20.6" font-weight="bold" text-anchor="end" fill="#e61414">High risk</text>
<rect x="1232.29" y="2065.78" width="413.23" height="334.96" fill="#fff"/>
<line x1="1288.44" y1="2065.78" x2="1288.44" y2="2400.74" stroke="#e9e9e9" stroke-width="1.9"/>
<line x1="1363.31" y1="2065.78" x2="1363.31" y2="2400.74" stroke="#e9e9e9" stroke-width="1.9"/>
<line x1="1438.66" y1="2065.78" x2="1438.66" y2="2400.74" stroke="#e9e9e9" stroke-width="1.9"/>
<line x1="1513.53" y1="2065.78" x2="1513.53" y2="2400.74" stroke="#e9e9e9" stroke-width="1.9"/>
<line x1="1588.64" y1="2065.78" x2="1588.64" y2="2400.74" stroke="#e9e9e9" stroke-width="1.9"/>
<line x1="1232.29" y1="2348.02" x2="1645.52" y2="2348.02" stroke="#e9e9e9" stroke-width="1.9"/>
<line x1="1232.29" y1="2271.75" x2="1645.52" y2="2271.75" stroke="#e9e9e9" stroke-width="1.9"/>
<line x1="1232.29" y1="2195.49" x2="1645.52" y2="2195.49" stroke="#e9e9e9" stroke-width="1.9"/>
<line x1="1232.29" y1="2119.22" x2="1645.52" y2="2119.22" stroke="#e9e9e9" stroke-width="1.9"/>
<line x1="1251.01" y1="2065.78" x2="1251.01" y2="2400.74" stroke="#e4e4e4" stroke-width="2"/>
<line x1="1325.88" y1="2065.78" x2="1325.88" y2="2400.74" stroke="#e4e4e4" stroke-width="2"/>
<line x1="1401.23" y1="2065.78" x2="1401.23" y2="2400.74" stroke="#e4e4e4" stroke-width="2"/>
<line x1="1476.1" y1="2065.78" x2="1476.1" y2="2400.74" stroke="#e4e4e4" stroke-width="2"/>
<line x1="1551.21" y1="2065.78" x2="1551.21" y2="2400.74" stroke="#e4e4e4" stroke-width="2"/>
<line x1="1626.56" y1="2065.78" x2="1626.56" y2="2400.74" stroke="#e4e4e4" stroke-width="2"/>
<line x1="1232.29" y1="2386.15" x2="1645.52" y2="2386.15" stroke="#e6e6e6" stroke-width="2.2"/>
<line x1="1232.29" y1="2309.89" x2="1645.52" y2="2309.89" stroke="#e6e6e6" stroke-width="2.2"/>
<line x1="1232.29" y1="2233.62" x2="1645.52" y2="2233.62" stroke="#e6e6e6" stroke-width="2.2"/>
<line x1="1232.29" y1="2157.36" x2="1645.52" y2="2157.36" stroke="#e6e6e6" stroke-width="2.2"/>
<line x1="1232.29" y1="2081.09" x2="1645.52" y2="2081.09" stroke="#e6e6e6" stroke-width="2.2"/>
<path d="M1251.01 2081.09 L1612.7 2081.09" fill="none" stroke="#2222d6" stroke-width="2" stroke-dasharray="10 4.5"/>
<path d="M1299.14 2081.09 L1299.14 2133.84 L1390.29 2133.84 L1390.29 2164.22 L1501.62 2164.22 L1501.62 2192.42 L1614.65 2192.42" fill="none" stroke="#2222d6" stroke-width="2" stroke-dasharray="10 4.5"/>
<path d="M1251.01 2081.09 L1360.64 2081.09 L1360.64 2096.89 L1473.42 2096.89 L1473.42 2114.39 L1487.52 2114.39 L1487.52 2132.14 L1532.98 2132.14 L1532.98 2147.45 L1601.77 2147.45" fill="none" stroke="#dc2020" stroke-width="2" stroke-dasharray="10 4.5"/>
<path d="M1302.3 2081.09 L1302.3 2144.29 L1310.81 2144.29 L1310.81 2181.24 L1335.6 2181.24 L1335.6 2211.14 L1358.21 2211.14 L1358.21 2239.09 L1361.12 2239.09 L1361.12 2264.13 L1472.94 2264.13 L1472.94 2286.49 L1487.52 2286.49 L1487.52 2307.64 L1532.98 2307.64 L1532.98 2339.48 L1601.77 2339.48" fill="none" stroke="#dc2020" stroke-width="2" stroke-dasharray="10 4.5"/>
<path d="M1251.01 2081.09 L1299.14 2081.09 L1299.14 2100.05 L1390.29 2100.05 L1390.29 2118.77 L1501.62 2118.77 L1501.62 2139.43 L1614.65 2139.43" fill="none" stroke="#1414e6" stroke-width="4.3"/>
<path d="M1251.01 2081.09 L1302.3 2081.09 L1302.3 2104.18 L1310.08 2104.18 L1310.08 2128.01 L1334.87 2128.01 L1334.87 2151.1 L1358.21 2151.1 L1358.21 2174.68 L1360.64 2174.68 L1360.64 2198.25 L1472.94 2198.25 L1472.94 2221.59 L1487.04 2221.59 L1487.04 2245.17 L1532.98 2245.17 L1532.98 2280.41 L1601.77 2280.41" fill="none" stroke="#e61414" stroke-width="4.3"/>
<line x1="1490.53" y1="2118.77" x2="1501.53" y2="2118.77" stroke="#666" stroke-width="1.7"/>
<line x1="1496.03" y1="2113.27" x2="1496.03" y2="2124.27" stroke="#666" stroke-width="1.7"/>
<line x1="1514.11" y1="2139.43" x2="1525.11" y2="2139.43" stroke="#666" stroke-width="1.7"/>
<line x1="1519.61" y1="2133.93" x2="1519.61" y2="2144.93" stroke="#666" stroke-width="1.7"/>
<line x1="1527.48" y1="2139.43" x2="1538.48" y2="2139.43" stroke="#666" stroke-width="1.7"/>
<line x1="1532.98" y1="2133.93" x2="1532.98" y2="2144.93" stroke="#666" stroke-width="1.7"/>
<line x1="1532.34" y1="2139.43" x2="1543.34" y2="2139.43" stroke="#666" stroke-width="1.7"/>
<line x1="1537.84" y1="2133.93" x2="1537.84" y2="2144.93" stroke="#666" stroke-width="1.7"/>
<line x1="1536.71" y1="2139.43" x2="1547.71" y2="2139.43" stroke="#666" stroke-width="1.7"/>
<line x1="1542.21" y1="2133.93" x2="1542.21" y2="2144.93" stroke="#666" stroke-width="1.7"/>
<line x1="1544.73" y1="2139.43" x2="1555.73" y2="2139.43" stroke="#666" stroke-width="1.7"/>
<line x1="1550.23" y1="2133.93" x2="1550.23" y2="2144.93" stroke="#666" stroke-width="1.7"/>
<line x1="1572.45" y1="2139.43" x2="1583.45" y2="2139.43" stroke="#666" stroke-width="1.7"/>
<line x1="1577.95" y1="2133.93" x2="1577.95" y2="2144.93" stroke="#666" stroke-width="1.7"/>
<line x1="1579.25" y1="2139.43" x2="1590.25" y2="2139.43" stroke="#666" stroke-width="1.7"/>
<line x1="1584.75" y1="2133.93" x2="1584.75" y2="2144.93" stroke="#666" stroke-width="1.7"/>
<line x1="1587.76" y1="2139.43" x2="1598.76" y2="2139.43" stroke="#666" stroke-width="1.7"/>
<line x1="1593.26" y1="2133.93" x2="1593.26" y2="2144.93" stroke="#666" stroke-width="1.7"/>
<line x1="1602.34" y1="2139.43" x2="1613.34" y2="2139.43" stroke="#666" stroke-width="1.7"/>
<line x1="1607.84" y1="2133.93" x2="1607.84" y2="2144.93" stroke="#666" stroke-width="1.7"/>
<line x1="1607.2" y1="2139.43" x2="1618.2" y2="2139.43" stroke="#666" stroke-width="1.7"/>
<line x1="1612.7" y1="2133.93" x2="1612.7" y2="2144.93" stroke="#666" stroke-width="1.7"/>
<line x1="1609.15" y1="2139.43" x2="1620.15" y2="2139.43" stroke="#666" stroke-width="1.7"/>
<line x1="1614.65" y1="2133.93" x2="1614.65" y2="2144.93" stroke="#666" stroke-width="1.7"/>
<line x1="1486.4" y1="2245.17" x2="1497.4" y2="2245.17" stroke="#666" stroke-width="1.7"/>
<line x1="1491.9" y1="2239.67" x2="1491.9" y2="2250.67" stroke="#666" stroke-width="1.7"/>
<line x1="1509.49" y1="2245.17" x2="1520.49" y2="2245.17" stroke="#666" stroke-width="1.7"/>
<line x1="1514.99" y1="2239.67" x2="1514.99" y2="2250.67" stroke="#666" stroke-width="1.7"/>
<line x1="1527.48" y1="2280.41" x2="1538.48" y2="2280.41" stroke="#666" stroke-width="1.7"/>
<line x1="1532.98" y1="2274.91" x2="1532.98" y2="2285.91" stroke="#666" stroke-width="1.7"/>
<line x1="1563.94" y1="2280.41" x2="1574.94" y2="2280.41" stroke="#666" stroke-width="1.7"/>
<line x1="1569.44" y1="2274.91" x2="1569.44" y2="2285.91" stroke="#666" stroke-width="1.7"/>
<line x1="1596.27" y1="2280.41" x2="1607.27" y2="2280.41" stroke="#666" stroke-width="1.7"/>
<line x1="1601.77" y1="2274.91" x2="1601.77" y2="2285.91" stroke="#666" stroke-width="1.7"/>
<line x1="1341.19" y1="2400.74" x2="1341.19" y2="2065.78" stroke="#000" stroke-width="2.3" stroke-dasharray="10 7.9" stroke-dashoffset="2.5"/>
<line x1="1431.13" y1="2400.74" x2="1431.13" y2="2065.78" stroke="#000" stroke-width="2.3" stroke-dasharray="10 7.9" stroke-dashoffset="2.5"/>
<rect x="1232.29" y="2065.78" width="413.23" height="334.96" fill="none" stroke="#3c3c3c" stroke-width="1.7"/>
<line x1="1251.01" y1="2400.74" x2="1251.01" y2="2405.74" stroke="#333" stroke-width="1.6"/>
<line x1="1325.88" y1="2400.74" x2="1325.88" y2="2405.74" stroke="#333" stroke-width="1.6"/>
<line x1="1401.23" y1="2400.74" x2="1401.23" y2="2405.74" stroke="#333" stroke-width="1.6"/>
<line x1="1476.1" y1="2400.74" x2="1476.1" y2="2405.74" stroke="#333" stroke-width="1.6"/>
<line x1="1551.21" y1="2400.74" x2="1551.21" y2="2405.74" stroke="#333" stroke-width="1.6"/>
<line x1="1626.56" y1="2400.74" x2="1626.56" y2="2405.74" stroke="#333" stroke-width="1.6"/>
<line x1="1227.29" y1="2386.15" x2="1232.29" y2="2386.15" stroke="#333" stroke-width="1.6"/>
<line x1="1227.29" y1="2309.89" x2="1232.29" y2="2309.89" stroke="#333" stroke-width="1.6"/>
<line x1="1227.29" y1="2233.62" x2="1232.29" y2="2233.62" stroke="#333" stroke-width="1.6"/>
<line x1="1227.29" y1="2157.36" x2="1232.29" y2="2157.36" stroke="#333" stroke-width="1.6"/>
<line x1="1227.29" y1="2081.09" x2="1232.29" y2="2081.09" stroke="#333" stroke-width="1.6"/>
<text x="1251.01" y="2424.74" font-size="20.6" text-anchor="middle">0</text>
<text x="1325.88" y="2424.74" font-size="20.6" text-anchor="middle">5</text>
<text x="1401.23" y="2424.74" font-size="20.6" text-anchor="middle">10</text>
<text x="1476.1" y="2424.74" font-size="20.6" text-anchor="middle">15</text>
<text x="1551.21" y="2424.74" font-size="20.6" text-anchor="middle">20</text>
<text x="1626.56" y="2424.74" font-size="20.6" text-anchor="middle">25</text>
<text x="1226.29" y="2393.45" font-size="20.6" text-anchor="end">0</text>
<text x="1226.29" y="2317.19" font-size="20.6" text-anchor="end">25</text>
<text x="1226.29" y="2240.92" font-size="20.6" text-anchor="end">50</text>
<text x="1226.29" y="2164.66" font-size="20.6" text-anchor="end">75</text>
<text x="1226.29" y="2088.39" font-size="20.6" text-anchor="end">100</text>
<text x="1635.8" y="2390.96" font-size="29.0" text-anchor="end"><tspan font-style="italic">P</tspan> = 0.0155</text>
<text x="1634.58" y="2126.17" font-size="20.6" font-weight="bold" text-anchor="end" fill="#1414e6">Low risk</text>
<text x="1634.58" y="2267.15" font-size="20.6" font-weight="bold" text-anchor="end" fill="#e61414">High risk</text>
<text x="1431.91" y="2451.74" font-size="29.3" text-anchor="middle">Time (months)</text>
<rect x="1668.51" y="2065.78" width="412.74" height="334.96" fill="#fff"/>
<line x1="1739.61" y1="2065.78" x2="1739.61" y2="2400.74" stroke="#e9e9e9" stroke-width="1.9"/>
<line x1="1844.37" y1="2065.78" x2="1844.37" y2="2400.74" stroke="#e9e9e9" stroke-width="1.9"/>
<line x1="1949.38" y1="2065.78" x2="1949.38" y2="2400.74" stroke="#e9e9e9" stroke-width="1.9"/>
<line x1="2054.39" y1="2065.78" x2="2054.39" y2="2400.74" stroke="#e9e9e9" stroke-width="1.9"/>
<line x1="1668.51" y1="2348.02" x2="2081.25" y2="2348.02" stroke="#e9e9e9" stroke-width="1.9"/>
<line x1="1668.51" y1="2271.75" x2="2081.25" y2="2271.75" stroke="#e9e9e9" stroke-width="1.9"/>
<line x1="1668.51" y1="2195.49" x2="2081.25" y2="2195.49" stroke="#e9e9e9" stroke-width="1.9"/>
<line x1="1668.51" y1="2119.22" x2="2081.25" y2="2119.22" stroke="#e9e9e9" stroke-width="1.9"/>
<line x1="1687.22" y1="2065.78" x2="1687.22" y2="2400.74" stroke="#e4e4e4" stroke-width="2"/>
<line x1="1791.99" y1="2065.78" x2="1791.99" y2="2400.74" stroke="#e4e4e4" stroke-width="2"/>
<line x1="1897" y1="2065.78" x2="1897" y2="2400.74" stroke="#e4e4e4" stroke-width="2"/>
<line x1="2002.01" y1="2065.78" x2="2002.01" y2="2400.74" stroke="#e4e4e4" stroke-width="2"/>
<line x1="1668.51" y1="2386.15" x2="2081.25" y2="2386.15" stroke="#e6e6e6" stroke-width="2.2"/>
<line x1="1668.51" y1="2309.89" x2="2081.25" y2="2309.89" stroke="#e6e6e6" stroke-width="2.2"/>
<line x1="1668.51" y1="2233.62" x2="2081.25" y2="2233.62" stroke="#e6e6e6" stroke-width="2.2"/>
<line x1="1668.51" y1="2157.36" x2="2081.25" y2="2157.36" stroke="#e6e6e6" stroke-width="2.2"/>
<line x1="1668.51" y1="2081.09" x2="2081.25" y2="2081.09" stroke="#e6e6e6" stroke-width="2.2"/>
<path d="M1687.22 2081.09 L1929.81 2081.09 L1929.81 2093.73 L2062.29 2093.73" fill="none" stroke="#2222d6" stroke-width="2" stroke-dasharray="10 4.5"/>
<path d="M1714.69 2081.09 L1714.69 2144.29 L1719.07 2144.29 L1719.07 2181.24 L1747.51 2181.24 L1747.51 2211.62 L1795.39 2211.62 L1795.39 2254.4 L1929.81 2254.4 L1929.81 2290.14 L2062.29 2290.14" fill="none" stroke="#2222d6" stroke-width="2" stroke-dasharray="10 4.5"/>
<path d="M1687.22 2081.09 L1730.49 2081.09 L1730.49 2091.3 L1745.08 2091.3 L1745.08 2102.24 L1760.88 2102.24 L1760.88 2114.64 L1796.85 2114.64 L1796.85 2127.76 L2035.55 2127.76" fill="none" stroke="#dc2020" stroke-width="2" stroke-dasharray="10 4.5"/>
<path d="M1713.96 2081.09 L1713.96 2102.97 L1722.71 2102.97 L1722.71 2174.68 L1726.12 2174.68 L1726.12 2195.34 L1730.49 2195.34 L1730.49 2214.3 L1745.08 2214.3 L1745.08 2232.53 L1760.88 2232.53 L1760.88 2251.24 L1796.85 2251.24 L1796.85 2269.48 L2035.55 2269.48" fill="none" stroke="#dc2020" stroke-width="2" stroke-dasharray="10 4.5"/>
<path d="M1687.22 2081.09 L1714.69 2081.09 L1714.69 2102.97 L1719.07 2102.97 L1719.07 2127.76 L1747.51 2127.76 L1747.51 2150.85 L1795.39 2150.85 L1795.39 2184.89 L1929.81 2184.89 L1929.81 2218.43 L2062.29 2218.43" fill="none" stroke="#1414e6" stroke-width="4.3"/>
<path d="M1687.22 2081.09 L1713.96 2081.09 L1713.96 2096.89 L1722.71 2096.89 L1722.71 2128.49 L1726.12 2128.49 L1726.12 2144.29 L1730.49 2144.29 L1730.49 2161.31 L1745.08 2161.31 L1745.08 2177.11 L1760.88 2177.11 L1760.88 2194.85 L1796.85 2194.85 L1796.85 2212.35 L2035.55 2212.35" fill="none" stroke="#e61414" stroke-width="4.3"/>
<line x1="1705.55" y1="2081.09" x2="1716.55" y2="2081.09" stroke="#666" stroke-width="1.7"/>
<line x1="1711.05" y1="2075.59" x2="1711.05" y2="2086.59" stroke="#666" stroke-width="1.7"/>
<line x1="1745.65" y1="2150.85" x2="1756.65" y2="2150.85" stroke="#666" stroke-width="1.7"/>
<line x1="1751.15" y1="2145.35" x2="1751.15" y2="2156.35" stroke="#666" stroke-width="1.7"/>
<line x1="1750.51" y1="2150.85" x2="1761.51" y2="2150.85" stroke="#666" stroke-width="1.7"/>
<line x1="1756.01" y1="2145.35" x2="1756.01" y2="2156.35" stroke="#666" stroke-width="1.7"/>
<line x1="1754.16" y1="2150.85" x2="1765.16" y2="2150.85" stroke="#666" stroke-width="1.7"/>
<line x1="1759.66" y1="2145.35" x2="1759.66" y2="2156.35" stroke="#666" stroke-width="1.7"/>
<line x1="1933.55" y1="2218.43" x2="1944.55" y2="2218.43" stroke="#666" stroke-width="1.7"/>
<line x1="1939.05" y1="2212.93" x2="1939.05" y2="2223.93" stroke="#666" stroke-width="1.7"/>
<line x1="1936.47" y1="2218.43" x2="1947.47" y2="2218.43" stroke="#666" stroke-width="1.7"/>
<line x1="1941.97" y1="2212.93" x2="1941.97" y2="2223.93" stroke="#666" stroke-width="1.7"/>
<line x1="1940.11" y1="2218.43" x2="1951.11" y2="2218.43" stroke="#666" stroke-width="1.7"/>
<line x1="1945.61" y1="2212.93" x2="1945.61" y2="2223.93" stroke="#666" stroke-width="1.7"/>
<line x1="1944.49" y1="2218.43" x2="1955.49" y2="2218.43" stroke="#666" stroke-width="1.7"/>
<line x1="1949.99" y1="2212.93" x2="1949.99" y2="2223.93" stroke="#666" stroke-width="1.7"/>
<line x1="2056.79" y1="2218.43" x2="2067.79" y2="2218.43" stroke="#666" stroke-width="1.7"/>
<line x1="2062.29" y1="2212.93" x2="2062.29" y2="2223.93" stroke="#666" stroke-width="1.7"/>
<line x1="1755.38" y1="2177.11" x2="1766.38" y2="2177.11" stroke="#666" stroke-width="1.7"/>
<line x1="1760.88" y1="2171.61" x2="1760.88" y2="2182.61" stroke="#666" stroke-width="1.7"/>
<line x1="1842.88" y1="2212.35" x2="1853.88" y2="2212.35" stroke="#666" stroke-width="1.7"/>
<line x1="1848.38" y1="2206.85" x2="1848.38" y2="2217.85" stroke="#666" stroke-width="1.7"/>
<line x1="1862.33" y1="2212.35" x2="1873.33" y2="2212.35" stroke="#666" stroke-width="1.7"/>
<line x1="1867.83" y1="2206.85" x2="1867.83" y2="2217.85" stroke="#666" stroke-width="1.7"/>
<line x1="1869.14" y1="2212.35" x2="1880.14" y2="2212.35" stroke="#666" stroke-width="1.7"/>
<line x1="1874.64" y1="2206.85" x2="1874.64" y2="2217.85" stroke="#666" stroke-width="1.7"/>
<line x1="1898.79" y1="2212.35" x2="1909.79" y2="2212.35" stroke="#666" stroke-width="1.7"/>
<line x1="1904.29" y1="2206.85" x2="1904.29" y2="2217.85" stroke="#666" stroke-width="1.7"/>
<line x1="1914.59" y1="2212.35" x2="1925.59" y2="2212.35" stroke="#666" stroke-width="1.7"/>
<line x1="1920.09" y1="2206.85" x2="1920.09" y2="2217.85" stroke="#666" stroke-width="1.7"/>
<line x1="1926.74" y1="2212.35" x2="1937.74" y2="2212.35" stroke="#666" stroke-width="1.7"/>
<line x1="1932.24" y1="2206.85" x2="1932.24" y2="2217.85" stroke="#666" stroke-width="1.7"/>
<line x1="1939.63" y1="2212.35" x2="1950.63" y2="2212.35" stroke="#666" stroke-width="1.7"/>
<line x1="1945.13" y1="2206.85" x2="1945.13" y2="2217.85" stroke="#666" stroke-width="1.7"/>
<line x1="1954.7" y1="2212.35" x2="1965.7" y2="2212.35" stroke="#666" stroke-width="1.7"/>
<line x1="1960.2" y1="2206.85" x2="1960.2" y2="2217.85" stroke="#666" stroke-width="1.7"/>
<line x1="1968.55" y1="2212.35" x2="1979.55" y2="2212.35" stroke="#666" stroke-width="1.7"/>
<line x1="1974.05" y1="2206.85" x2="1974.05" y2="2217.85" stroke="#666" stroke-width="1.7"/>
<line x1="2030.05" y1="2212.35" x2="2041.05" y2="2212.35" stroke="#666" stroke-width="1.7"/>
<line x1="2035.55" y1="2206.85" x2="2035.55" y2="2217.85" stroke="#666" stroke-width="1.7"/>
<line x1="1749.94" y1="2400.74" x2="1749.94" y2="2065.78" stroke="#000" stroke-width="2.3" stroke-dasharray="10 7.9" stroke-dashoffset="2.5"/>
<line x1="1813.14" y1="2400.74" x2="1813.14" y2="2065.78" stroke="#000" stroke-width="2.3" stroke-dasharray="10 7.9" stroke-dashoffset="2.5"/>
<rect x="1668.51" y="2065.78" width="412.74" height="334.96" fill="none" stroke="#3c3c3c" stroke-width="1.7"/>
<line x1="1687.22" y1="2400.74" x2="1687.22" y2="2405.74" stroke="#333" stroke-width="1.6"/>
<line x1="1791.99" y1="2400.74" x2="1791.99" y2="2405.74" stroke="#333" stroke-width="1.6"/>
<line x1="1897" y1="2400.74" x2="1897" y2="2405.74" stroke="#333" stroke-width="1.6"/>
<line x1="2002.01" y1="2400.74" x2="2002.01" y2="2405.74" stroke="#333" stroke-width="1.6"/>
<line x1="1663.51" y1="2386.15" x2="1668.51" y2="2386.15" stroke="#333" stroke-width="1.6"/>
<line x1="1663.51" y1="2309.89" x2="1668.51" y2="2309.89" stroke="#333" stroke-width="1.6"/>
<line x1="1663.51" y1="2233.62" x2="1668.51" y2="2233.62" stroke="#333" stroke-width="1.6"/>
<line x1="1663.51" y1="2157.36" x2="1668.51" y2="2157.36" stroke="#333" stroke-width="1.6"/>
<line x1="1663.51" y1="2081.09" x2="1668.51" y2="2081.09" stroke="#333" stroke-width="1.6"/>
<text x="1687.22" y="2424.74" font-size="20.6" text-anchor="middle">0</text>
<text x="1791.99" y="2424.74" font-size="20.6" text-anchor="middle">10</text>
<text x="1897" y="2424.74" font-size="20.6" text-anchor="middle">20</text>
<text x="2002.01" y="2424.74" font-size="20.6" text-anchor="middle">30</text>
<text x="2070.8" y="2390.96" font-size="29.0" text-anchor="end"><tspan font-style="italic">P</tspan> = 0.829</text>
<text x="2059.37" y="2197.88" font-size="20.6" font-weight="bold" text-anchor="end" fill="#e61414">High risk</text>
<text x="2069.58" y="2245.76" font-size="20.6" font-weight="bold" text-anchor="end" fill="#1414e6">Low risk</text>
<text x="1867.88" y="2451.74" font-size="29.3" text-anchor="middle">Time (months)</text>
</svg>
</body></html>
